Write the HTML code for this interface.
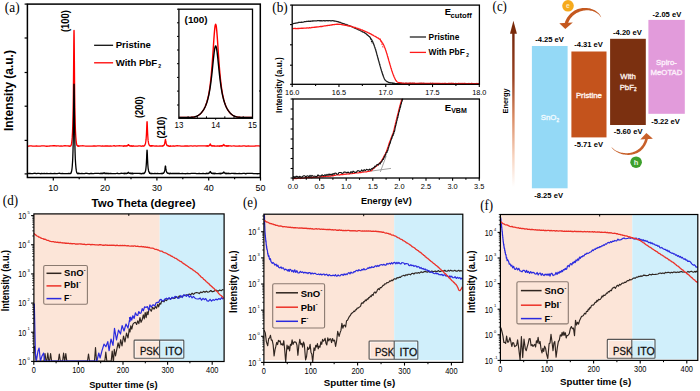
<!DOCTYPE html>
<html><head><meta charset="utf-8"><style>
html,body{margin:0;padding:0;background:#fff;width:700px;height:391px;overflow:hidden}
svg{display:block}
</style></head><body>
<svg width="700" height="391" viewBox="0 0 700 391">
<path d="M27.4,146.23 L28.7,146.22 L29.99,145.78 L31.28,145.79 L32.58,146.17 L33.88,146.12 L35.17,146.08 L36.46,145.9 L37.76,146.05 L39.05,146.05 L40.35,146.04 L41.64,145.83 L42.94,145.97 L44.23,145.95 L45.53,146.11 L46.82,146.25 L48.12,146.22 L49.41,146.02 L50.71,145.97 L52,145.88 L53.3,145.77 L54.59,145.76 L55.89,145.98 L57.18,145.91 L58.48,145.94 L59.77,146.2 L61.07,146.01 L62.36,146.03 L63.66,145.87 L64.95,145.76 L66.25,145.91 L67.54,145.82 L68.84,146.01 L70.13,146.24 L70.24,146.07 L70.34,145.8 L70.45,146.13 L70.55,146.04 L70.65,145.95 L70.76,145.95 L70.86,145.76 L70.96,145.61 L71.07,145.17 L71.17,145.21 L71.27,144.85 L71.38,144.03 L71.48,143.82 L71.59,143.19 L71.69,142.36 L71.79,141.58 L71.9,140.62 L72,139.77 L72.1,138.35 L72.21,137.14 L72.31,135.34 L72.41,133.82 L72.52,131.77 L72.62,129.18 L72.72,126.47 L72.83,123.4 L72.93,119.43 L73.04,114.68 L73.14,108.95 L73.24,102.23 L73.35,94.22 L73.45,84.15 L73.55,73.1 L73.66,60.13 L73.76,47.71 L73.86,36.59 L73.97,30.57 L74.07,30.45 L74.18,36.69 L74.28,47.51 L74.38,60.32 L74.49,72.94 L74.59,84.22 L74.69,93.98 L74.8,102.32 L74.9,109.31 L75,114.75 L75.11,119.11 L75.21,123.35 L75.31,126.55 L75.42,129.41 L75.52,131.42 L75.63,133.75 L75.73,135.19 L75.83,137.05 L75.94,138.24 L76.04,139.42 L76.14,140.81 L76.25,141.37 L76.35,142.39 L76.45,143.26 L76.56,143.56 L76.66,144.05 L76.77,144.81 L76.87,144.93 L76.97,145.35 L77.08,145.23 L77.18,145.56 L77.28,145.58 L77.39,145.92 L77.49,145.69 L77.59,146.16 L77.7,145.73 L77.8,146.09 L77.9,145.75 L78.01,145.87 L78.11,146.15 L78.22,145.83 L78.32,145.84 L78.42,146.1 L78.53,145.94 L78.63,145.77 L78.73,146.24 L78.84,145.83 L78.94,145.77 L79.04,145.92 L79.15,146.06 L79.25,146.12 L80.55,145.81 L81.84,145.92 L83.14,145.77 L84.43,145.97 L85.73,146.13 L87.02,146.12 L88.32,146.2 L89.61,146.13 L90.91,146.18 L92.2,146.1 L93.5,145.99 L94.79,145.86 L96.09,146.08 L97.38,145.91 L98.68,145.8 L99.97,145.97 L101.27,146.19 L102.56,145.81 L103.86,146.04 L105.15,145.95 L106.45,146.01 L107.74,145.82 L109.04,146.23 L110.33,145.88 L111.63,146.05 L112.92,145.96 L114.22,145.76 L115.51,146.03 L116.81,145.82 L118.1,145.78 L119.4,145.77 L120.69,145.83 L121.99,145.8 L123.28,146.07 L123.39,146 L123.49,146.24 L123.59,146.22 L123.7,146.25 L123.8,145.87 L123.9,145.97 L124.01,145.88 L124.11,146.05 L124.21,146.06 L124.32,146.15 L124.42,146.1 L124.52,145.88 L124.63,145.96 L124.73,146.01 L124.84,145.75 L124.94,145.77 L125.04,145.95 L125.15,145.8 L125.25,146.11 L125.35,145.86 L125.46,145.79 L125.56,145.83 L125.66,145.85 L125.77,145.84 L125.87,145.99 L125.98,145.95 L126.08,145.87 L126.18,146.03 L126.29,145.8 L126.39,146.14 L126.49,146.15 L126.6,146.02 L126.7,145.86 L126.8,145.88 L126.91,145.89 L127.01,145.6 L127.11,145.76 L127.22,145.78 L127.32,145.57 L127.43,145.47 L127.53,145.77 L127.63,145.48 L127.74,145.48 L127.84,145.58 L127.94,145.3 L128.05,145.01 L128.15,145.23 L128.25,144.81 L128.36,144.57 L128.46,144.9 L128.57,144.67 L128.67,144.89 L128.77,145.29 L128.88,145.33 L128.98,145.12 L129.08,145.44 L129.19,145.51 L129.29,145.61 L129.39,145.53 L129.5,145.77 L129.6,145.55 L129.7,145.69 L129.81,145.76 L129.91,146.07 L130.02,145.66 L130.12,146.02 L130.22,145.75 L130.33,145.96 L130.43,145.88 L130.53,145.93 L130.64,146.08 L130.74,145.91 L130.84,145.78 L130.95,145.79 L131.05,145.77 L131.16,146.16 L131.26,146.06 L131.36,146.22 L131.47,146.09 L131.57,145.76 L131.67,146.08 L131.78,146.14 L131.88,146.11 L131.98,146 L132.09,145.93 L132.19,145.98 L132.29,146.15 L132.4,145.88 L132.5,146.01 L132.61,145.99 L132.71,146.23 L132.81,146.15 L132.92,146.22 L133.02,146.17 L133.12,145.9 L133.23,145.87 L133.33,145.99 L133.43,145.88 L133.54,145.96 L133.64,146.09 L134.94,146.21 L136.23,146.04 L137.53,146.16 L138.82,145.8 L140.12,145.93 L141.41,146.25 L142.71,145.82 L142.81,145.96 L142.91,145.78 L143.02,145.79 L143.12,146.2 L143.22,146.24 L143.33,146.07 L143.43,145.8 L143.54,145.88 L143.64,145.84 L143.74,146.04 L143.85,146.03 L143.95,145.87 L144.05,145.88 L144.16,145.62 L144.26,145.77 L144.36,145.89 L144.47,145.7 L144.57,145.25 L144.68,145.32 L144.78,145.26 L144.88,144.85 L144.99,144.96 L145.09,144.5 L145.19,144.35 L145.3,143.89 L145.4,143.84 L145.5,143.33 L145.61,142.76 L145.71,142.01 L145.81,141.53 L145.92,140.58 L146.02,139.97 L146.13,139.05 L146.23,137.4 L146.33,136 L146.44,134.09 L146.54,131.82 L146.64,129.42 L146.75,126.82 L146.85,124.17 L146.95,122.18 L147.06,121.73 L147.16,122.11 L147.27,124.19 L147.37,126.69 L147.47,129.45 L147.58,132.04 L147.68,133.97 L147.78,136.05 L147.89,137.51 L147.99,138.94 L148.09,140.16 L148.2,140.88 L148.3,141.31 L148.4,142.17 L148.51,142.83 L148.61,143.38 L148.72,143.67 L148.82,144.1 L148.92,144.01 L149.03,144.74 L149.13,144.88 L149.23,145.02 L149.34,145.36 L149.44,145.51 L149.54,145.25 L149.65,145.73 L149.75,145.8 L149.86,145.6 L149.96,145.94 L150.06,145.91 L150.17,145.75 L150.27,146.09 L150.37,145.78 L150.48,146.03 L150.58,145.95 L150.68,145.87 L150.79,146.03 L150.89,145.98 L150.99,145.85 L151.1,146.23 L151.2,145.79 L151.31,145.75 L151.41,145.99 L151.51,146.17 L151.62,146.08 L151.72,146.13 L151.82,145.99 L151.93,146.09 L152.03,145.92 L152.13,145.88 L152.24,146 L152.34,145.76 L153.64,145.79 L154.93,146.13 L156.23,145.84 L157.52,146.13 L158.82,146.14 L160.11,145.95 L161.41,146.09 L161.51,146.14 L161.61,146.18 L161.72,145.82 L161.82,145.83 L161.92,145.94 L162.03,145.97 L162.13,145.89 L162.24,145.74 L162.34,146 L162.44,146.2 L162.55,145.88 L162.65,145.95 L162.75,145.85 L162.86,145.86 L162.96,146.04 L163.06,145.72 L163.17,145.85 L163.27,145.72 L163.37,145.69 L163.48,145.82 L163.58,145.32 L163.69,145.62 L163.79,145.26 L163.89,145.33 L164,145.28 L164.1,145.07 L164.2,144.77 L164.31,144.79 L164.41,144.18 L164.51,144.17 L164.62,143.71 L164.72,143.36 L164.83,143.02 L164.93,142.4 L165.03,141.64 L165.14,140.76 L165.24,140.05 L165.34,139.66 L165.45,139.37 L165.55,139.57 L165.65,140.41 L165.76,140.66 L165.86,141.73 L165.96,142.19 L166.07,142.78 L166.17,143.25 L166.28,143.55 L166.38,144.08 L166.48,144.22 L166.59,144.59 L166.69,144.72 L166.79,145.19 L166.9,145.34 L167,145.23 L167.1,145.43 L167.21,145.67 L167.31,145.45 L167.42,145.41 L167.52,145.54 L167.62,145.57 L167.73,145.87 L167.83,145.76 L167.93,145.78 L168.04,146.03 L168.14,145.78 L168.24,146.09 L168.35,146.02 L168.45,145.91 L168.55,146.14 L168.66,145.9 L168.76,146.18 L168.87,146.21 L168.97,146 L169.07,146.09 L169.18,146.22 L169.28,146.12 L169.38,146.13 L169.49,146.18 L169.59,146.22 L169.69,146.13 L169.8,146.24 L169.9,145.9 L170.01,146.06 L170.11,146.09 L170.21,145.93 L170.32,145.95 L170.42,145.84 L170.52,146.23 L170.63,145.93 L170.73,145.99 L172.03,146.2 L173.32,145.84 L174.62,146.23 L175.91,145.81 L177.21,145.76 L178.5,145.93 L179.8,145.93 L181.09,146.21 L182.39,146.19 L183.68,146.13 L184.98,145.97 L186.27,146.02 L187.57,145.87 L188.86,146.17 L190.16,145.94 L191.45,145.89 L192.75,146.07 L194.04,145.83 L195.34,145.91 L196.63,146.21 L197.93,145.8 L199.22,145.82 L200.52,145.85 L201.81,145.88 L203.11,145.96 L204.4,145.88 L205.7,145.92 L205.8,145.87 L205.9,145.87 L206.01,146.06 L206.11,145.92 L206.21,145.94 L206.32,146.13 L206.42,145.78 L206.52,145.82 L206.63,146.17 L206.73,145.96 L206.84,146.14 L206.94,145.81 L207.04,146.01 L207.15,146.17 L207.25,145.91 L207.35,146.12 L207.46,146.04 L207.56,145.92 L207.66,146.22 L207.77,145.91 L207.87,145.94 L207.97,146 L208.08,145.83 L208.18,146.08 L208.29,145.94 L208.39,145.92 L208.49,145.87 L208.6,146.07 L208.7,146.04 L208.8,145.93 L208.91,145.7 L209.01,145.63 L209.11,145.63 L209.22,145.33 L209.32,145.28 L209.43,145.63 L209.53,145.08 L209.63,145.34 L209.74,145.05 L209.84,144.98 L209.94,144.36 L210.05,144.29 L210.15,144.4 L210.25,143.95 L210.36,144.05 L210.46,144.31 L210.56,144.41 L210.67,144.6 L210.77,145.05 L210.88,144.92 L210.98,145.5 L211.08,145.45 L211.19,145.25 L211.29,145.75 L211.39,145.49 L211.5,145.66 L211.6,145.75 L211.7,145.58 L211.81,145.79 L211.91,145.6 L212.02,145.7 L212.12,146.08 L212.22,146.05 L212.33,145.92 L212.43,146.02 L212.53,146.13 L212.64,145.77 L212.74,145.96 L212.84,145.78 L212.95,145.78 L213.05,145.79 L213.15,145.84 L213.26,145.77 L213.36,145.85 L213.47,145.93 L213.57,146.06 L213.67,146.18 L213.78,146.2 L213.88,146.11 L213.98,146 L214.09,146.21 L214.19,145.83 L214.29,145.8 L214.4,146.16 L214.5,146.06 L214.61,145.86 L214.71,145.94 L214.81,145.9 L214.92,145.97 L215.02,145.96 L215.12,145.95 L215.23,146.15 L215.33,146.16 L215.43,146.03 L216.73,145.99 L218.02,145.89 L219.32,146.13 L219.42,146.24 L219.53,145.86 L219.63,146.1 L219.73,146.1 L219.84,146.08 L219.94,145.77 L220.04,146.03 L220.15,145.85 L220.25,145.85 L220.36,146.04 L220.46,146.07 L220.56,146.06 L220.67,146.11 L220.77,146.09 L220.87,145.98 L220.98,145.76 L221.08,146.11 L221.18,146.13 L221.29,146.13 L221.39,146.01 L221.49,145.72 L221.6,145.78 L221.7,145.73 L221.81,145.98 L221.91,145.91 L222.01,145.72 L222.12,146.08 L222.22,146.07 L222.32,146 L222.43,145.75 L222.53,145.62 L222.63,145.53 L222.74,145.79 L222.84,145.66 L222.95,145.36 L223.05,145.58 L223.15,145.29 L223.26,145.08 L223.36,144.93 L223.46,144.93 L223.57,144.66 L223.67,144.69 L223.77,144.42 L223.88,144.79 L223.98,144.7 L224.08,145.17 L224.19,144.98 L224.29,145.18 L224.4,145.4 L224.5,145.42 L224.6,145.57 L224.71,145.84 L224.81,145.53 L224.91,145.86 L225.02,145.86 L225.12,145.94 L225.22,145.8 L225.33,145.83 L225.43,145.8 L225.54,145.88 L225.64,145.79 L225.74,145.77 L225.85,145.92 L225.95,145.79 L226.05,145.94 L226.16,146 L226.26,145.88 L226.36,145.81 L226.47,146.04 L226.57,146.17 L226.67,145.85 L226.78,146.05 L226.88,146.07 L226.99,146.19 L227.09,146.09 L227.19,145.9 L227.3,145.85 L227.4,146.17 L227.5,145.9 L227.61,145.76 L227.71,146.19 L227.81,145.85 L227.92,145.91 L228.02,145.91 L228.13,145.88 L228.23,146.11 L228.33,145.92 L228.44,145.97 L228.54,145.96 L228.64,146.17 L228.75,145.76 L228.85,146.04 L228.95,145.82 L230.25,145.83 L231.54,146.05 L232.84,145.94 L234.13,145.78 L235.43,146.04 L236.72,146.21 L238.02,146.07 L239.31,146 L240.61,146.15 L241.9,146.21 L243.2,145.83 L244.49,145.9 L245.79,146.23 L247.08,146.21 L248.38,145.85 L249.67,146.1 L250.97,146.19 L252.26,146.05 L253.56,146.1 L254.85,146.01 L256.15,145.87 L257.44,145.86 L258.74,145.78 L260.03,146.08" fill="none" stroke="#ff0000" stroke-width="1.3" stroke-linejoin="round" />
<path d="M27.4,173.37 L28.7,173.52 L29.99,173.43 L31.28,173.55 L32.58,173.56 L33.88,173.28 L35.17,173.26 L36.46,173.67 L37.76,173.38 L39.05,173.37 L40.35,173.75 L41.64,173.49 L42.94,173.67 L44.23,173.49 L45.53,173.57 L46.82,173.33 L48.12,173.57 L49.41,173.68 L50.71,173.51 L52,173.62 L53.3,173.59 L54.59,173.28 L55.89,173.63 L57.18,173.55 L58.48,173.4 L59.77,173.27 L61.07,173.68 L62.36,173.49 L63.66,173.61 L64.95,173.69 L66.25,173.61 L67.54,173.71 L68.84,173.45 L70.13,173.64 L70.24,173.46 L70.34,173.69 L70.45,173.64 L70.55,173.22 L70.65,173.19 L70.76,173.16 L70.86,173.44 L70.96,173.05 L71.07,172.98 L71.17,172.61 L71.27,172.44 L71.38,172.05 L71.48,171.64 L71.59,171.29 L71.69,170.75 L71.79,170.28 L71.9,169.45 L72,168.75 L72.1,167.78 L72.21,166.79 L72.31,165.42 L72.41,163.79 L72.52,162.56 L72.62,160.79 L72.72,158.62 L72.83,155.95 L72.93,153.04 L73.04,149.22 L73.14,145.22 L73.24,139.87 L73.35,133.4 L73.45,125.74 L73.55,117.32 L73.66,107.64 L73.76,97.37 L73.86,89.39 L73.97,84.31 L74.07,84.18 L74.18,89.14 L74.28,97.71 L74.38,107.58 L74.49,116.92 L74.59,126.01 L74.69,133.28 L74.8,139.94 L74.9,144.97 L75,149.55 L75.11,153.17 L75.21,155.92 L75.31,158.67 L75.42,160.46 L75.52,162.17 L75.63,164.01 L75.73,165.1 L75.83,166.39 L75.94,167.56 L76.04,168.59 L76.14,169.19 L76.25,169.85 L76.35,170.89 L76.45,171.16 L76.56,171.95 L76.66,172.31 L76.77,172.38 L76.87,172.69 L76.97,172.93 L77.08,173.16 L77.18,173.26 L77.28,173.33 L77.39,173.43 L77.49,173.64 L77.59,173.45 L77.7,173.44 L77.8,173.59 L77.9,173.36 L78.01,173.4 L78.11,173.74 L78.22,173.51 L78.32,173.52 L78.42,173.26 L78.53,173.46 L78.63,173.54 L78.73,173.26 L78.84,173.56 L78.94,173.57 L79.04,173.28 L79.15,173.56 L79.25,173.48 L80.55,173.59 L81.84,173.43 L83.14,173.6 L84.43,173.62 L85.73,173.26 L87.02,173.28 L88.32,173.59 L89.61,173.73 L90.91,173.38 L92.2,173.48 L93.5,173.55 L94.79,173.41 L96.09,173.43 L97.38,173.41 L98.68,173.43 L99.97,173.55 L100.08,173.4 L100.18,173.44 L100.28,173.64 L100.39,173.26 L100.49,173.53 L100.59,173.62 L100.7,173.4 L100.8,173.36 L100.9,173.65 L101.01,173.37 L101.11,173.34 L101.21,173.46 L101.32,173.59 L101.42,173.29 L101.53,173.4 L101.63,173.4 L101.73,173.65 L101.84,173.45 L101.94,173.65 L102.04,173.3 L102.15,173.38 L102.25,173.53 L102.35,173.64 L102.46,173.41 L102.56,173.29 L102.67,173.22 L102.77,173.41 L102.87,173.23 L102.98,173.52 L103.08,173.51 L103.18,173.15 L103.29,173.16 L103.39,173.39 L103.49,173.25 L103.6,173.28 L103.7,172.98 L103.8,172.81 L103.91,172.83 L104.01,173.05 L104.12,172.79 L104.22,172.86 L104.32,172.95 L104.43,173.02 L104.53,173.08 L104.63,173.39 L104.74,173.06 L104.84,173.03 L104.94,173.53 L105.05,173.53 L105.15,173.61 L105.26,173.35 L105.36,173.62 L105.46,173.63 L105.57,173.29 L105.67,173.56 L105.77,173.61 L105.88,173.54 L105.98,173.47 L106.08,173.36 L106.19,173.39 L106.29,173.34 L106.39,173.27 L106.5,173.53 L106.6,173.38 L106.71,173.65 L106.81,173.27 L106.91,173.7 L107.02,173.59 L107.12,173.71 L107.22,173.7 L107.33,173.7 L107.43,173.54 L107.53,173.26 L107.64,173.62 L107.74,173.34 L107.85,173.4 L107.95,173.58 L108.05,173.51 L108.16,173.46 L108.26,173.72 L108.36,173.56 L108.47,173.42 L108.57,173.38 L108.67,173.68 L108.78,173.49 L108.88,173.64 L108.98,173.43 L109.09,173.35 L109.19,173.52 L109.3,173.66 L110.59,173.34 L111.89,173.65 L113.18,173.71 L114.48,173.65 L115.77,173.66 L117.07,173.25 L118.36,173.56 L119.66,173.68 L120.95,173.27 L122.25,173.39 L123.54,173.38 L123.64,173.51 L123.75,173.46 L123.85,173.49 L123.96,173.64 L124.06,173.25 L124.16,173.28 L124.27,173.31 L124.37,173.31 L124.47,173.28 L124.58,173.74 L124.68,173.68 L124.78,173.29 L124.89,173.5 L124.99,173.41 L125.09,173.41 L125.2,173.42 L125.3,173.57 L125.41,173.54 L125.51,173.42 L125.61,173.34 L125.72,173.4 L125.82,173.29 L125.92,173.51 L126.03,173.58 L126.13,173.41 L126.23,173.25 L126.34,173.29 L126.44,173.38 L126.55,173.48 L126.65,173.56 L126.75,173.34 L126.86,173.54 L126.96,173.43 L127.06,173.31 L127.17,173.25 L127.27,173.29 L127.37,173.35 L127.48,173.17 L127.58,173.25 L127.68,173.07 L127.79,172.89 L127.89,172.94 L128,172.92 L128.1,172.49 L128.2,172.57 L128.31,172.49 L128.41,172.69 L128.51,172.75 L128.62,172.54 L128.72,172.91 L128.82,172.96 L128.93,172.8 L129.03,173 L129.14,172.9 L129.24,173.31 L129.34,173.29 L129.45,173.45 L129.55,173.43 L129.65,173.4 L129.76,173.46 L129.86,173.4 L129.96,173.19 L130.07,173.45 L130.17,173.17 L130.27,173.25 L130.38,173.58 L130.48,173.22 L130.59,173.25 L130.69,173.27 L130.79,173.66 L130.9,173.32 L131,173.24 L131.1,173.66 L131.21,173.3 L131.31,173.66 L131.41,173.58 L131.52,173.66 L131.62,173.72 L131.73,173.54 L131.83,173.65 L131.93,173.27 L132.04,173.63 L132.14,173.51 L132.24,173.61 L132.35,173.3 L132.45,173.62 L132.55,173.72 L132.66,173.28 L132.76,173.41 L132.86,173.53 L132.97,173.66 L133.07,173.37 L133.18,173.34 L133.28,173.37 L133.38,173.56 L133.49,173.63 L133.59,173.45 L133.69,173.43 L134.99,173.45 L136.28,173.43 L137.58,173.46 L138.87,173.29 L140.17,173.5 L141.46,173.74 L142.76,173.46 L142.86,173.62 L142.97,173.33 L143.07,173.59 L143.17,173.63 L143.28,173.58 L143.38,173.5 L143.48,173.48 L143.59,173.55 L143.69,173.67 L143.79,173.27 L143.9,173.22 L144,173.52 L144.11,173.56 L144.21,173.3 L144.31,173.19 L144.42,173.25 L144.52,172.88 L144.62,172.8 L144.73,172.62 L144.83,172.65 L144.93,172.32 L145.04,172.07 L145.14,172.05 L145.24,171.91 L145.35,171.26 L145.45,171.11 L145.56,170.55 L145.66,170.29 L145.76,169.6 L145.87,168.78 L145.97,167.98 L146.07,166.94 L146.18,166.04 L146.28,164.63 L146.38,162.87 L146.49,160.99 L146.59,158.66 L146.7,156.34 L146.8,153.45 L146.9,151.7 L147.01,150.16 L147.11,150.22 L147.21,151.43 L147.32,153.8 L147.42,156.36 L147.52,158.78 L147.63,161.05 L147.73,163.15 L147.83,164.87 L147.94,166.01 L148.04,167.3 L148.15,168.35 L148.25,168.88 L148.35,169.42 L148.46,169.98 L148.56,170.7 L148.66,171.09 L148.77,171.59 L148.87,171.86 L148.97,171.83 L149.08,172.05 L149.18,172.3 L149.29,172.45 L149.39,172.87 L149.49,173.09 L149.6,173.23 L149.7,173.01 L149.8,173.4 L149.91,173.2 L150.01,173.31 L150.11,173.51 L150.22,173.22 L150.32,173.25 L150.42,173.63 L150.53,173.37 L150.63,173.42 L150.74,173.53 L150.84,173.58 L150.94,173.25 L151.05,173.42 L151.15,173.47 L151.25,173.49 L151.36,173.35 L151.46,173.54 L151.56,173.73 L151.67,173.45 L151.77,173.52 L151.88,173.31 L151.98,173.39 L152.08,173.58 L152.19,173.31 L152.29,173.69 L153.58,173.7 L154.88,173.3 L156.17,173.72 L157.47,173.44 L158.76,173.64 L160.06,173.63 L161.35,173.4 L161.46,173.59 L161.56,173.58 L161.67,173.65 L161.77,173.38 L161.87,173.62 L161.98,173.72 L162.08,173.58 L162.18,173.5 L162.29,173.28 L162.39,173.46 L162.49,173.38 L162.6,173.54 L162.7,173.5 L162.81,173.42 L162.91,173.19 L163.01,173.39 L163.12,173.33 L163.22,173.05 L163.32,173.35 L163.43,173.16 L163.53,172.82 L163.63,173.13 L163.74,172.64 L163.84,172.62 L163.94,172.68 L164.05,172.47 L164.15,172.27 L164.26,172.1 L164.36,171.76 L164.46,171.39 L164.57,170.96 L164.67,170.47 L164.77,170.27 L164.88,169.66 L164.98,168.82 L165.08,168.1 L165.19,167.09 L165.29,166.35 L165.4,166 L165.5,166.24 L165.6,166.23 L165.71,167.16 L165.81,167.85 L165.91,168.93 L166.02,169.46 L166.12,170.08 L166.22,170.64 L166.33,171.14 L166.43,171.62 L166.53,171.71 L166.64,172.2 L166.74,172.05 L166.85,172.3 L166.95,172.37 L167.05,172.51 L167.16,172.96 L167.26,173.03 L167.36,172.85 L167.47,172.93 L167.57,173.11 L167.67,173.34 L167.78,173.42 L167.88,173.44 L167.99,173.4 L168.09,173.21 L168.19,173.36 L168.3,173.28 L168.4,173.47 L168.5,173.5 L168.61,173.33 L168.71,173.36 L168.81,173.63 L168.92,173.26 L169.02,173.65 L169.12,173.69 L169.23,173.72 L169.33,173.44 L169.44,173.53 L169.54,173.54 L169.64,173.57 L169.75,173.74 L169.85,173.59 L169.95,173.4 L170.06,173.68 L170.16,173.49 L170.26,173.55 L170.37,173.61 L170.47,173.25 L170.58,173.64 L170.68,173.58 L171.97,173.5 L173.27,173.51 L174.56,173.48 L175.86,173.35 L177.15,173.51 L178.45,173.27 L179.74,173.5 L181.04,173.57 L182.33,173.47 L183.63,173.53 L184.92,173.73 L186.22,173.7 L187.51,173.32 L188.81,173.65 L190.1,173.56 L191.4,173.28 L192.69,173.43 L193.99,173.37 L195.28,173.29 L196.58,173.52 L197.87,173.71 L199.17,173.41 L200.46,173.69 L201.76,173.6 L203.05,173.32 L204.35,173.68 L205.64,173.55 L205.75,173.71 L205.85,173.61 L205.95,173.62 L206.06,173.42 L206.16,173.65 L206.27,173.72 L206.37,173.68 L206.47,173.47 L206.58,173.63 L206.68,173.49 L206.78,173.3 L206.89,173.27 L206.99,173.29 L207.09,173.34 L207.2,173.32 L207.3,173.49 L207.4,173.58 L207.51,173.5 L207.61,173.43 L207.72,173.54 L207.82,173.36 L207.92,173.43 L208.03,173.56 L208.13,173.37 L208.23,173.24 L208.34,173.58 L208.44,173.47 L208.54,173.27 L208.65,173.24 L208.75,173.29 L208.86,173.29 L208.96,173.06 L209.06,172.9 L209.17,172.94 L209.27,173.16 L209.37,172.75 L209.48,172.81 L209.58,172.55 L209.68,172.4 L209.79,172.21 L209.89,172.13 L210,171.81 L210.1,171.57 L210.2,171.52 L210.31,171.55 L210.41,171.81 L210.51,171.76 L210.62,171.94 L210.72,172.34 L210.82,172.5 L210.93,172.8 L211.03,172.6 L211.13,172.88 L211.24,172.96 L211.34,172.85 L211.45,173.38 L211.55,173.06 L211.65,173.04 L211.76,173.26 L211.86,173.14 L211.96,173.4 L212.07,173.28 L212.17,173.19 L212.27,173.18 L212.38,173.53 L212.48,173.32 L212.59,173.59 L212.69,173.44 L212.79,173.68 L212.9,173.37 L213,173.35 L213.1,173.37 L213.21,173.65 L213.31,173.56 L213.41,173.42 L213.52,173.29 L213.62,173.59 L213.72,173.73 L213.83,173.55 L213.93,173.25 L214.04,173.26 L214.14,173.3 L214.24,173.34 L214.35,173.27 L214.45,173.28 L214.55,173.58 L214.66,173.7 L214.76,173.35 L214.86,173.74 L214.97,173.49 L215.07,173.65 L215.18,173.71 L215.28,173.72 L215.38,173.27 L215.49,173.4 L216.78,173.55 L218.08,173.72 L219.37,173.29 L219.47,173.4 L219.58,173.67 L219.68,173.31 L219.79,173.44 L219.89,173.42 L219.99,173.59 L220.1,173.71 L220.2,173.34 L220.3,173.62 L220.41,173.61 L220.51,173.66 L220.61,173.52 L220.72,173.7 L220.82,173.42 L220.92,173.44 L221.03,173.35 L221.13,173.62 L221.24,173.46 L221.34,173.35 L221.44,173.29 L221.55,173.55 L221.65,173.48 L221.75,173.52 L221.86,173.34 L221.96,173.38 L222.06,173.19 L222.17,173.44 L222.27,173.07 L222.38,173.27 L222.48,173.38 L222.58,173.29 L222.69,172.95 L222.79,172.96 L222.89,173.19 L223,173 L223.1,173.01 L223.2,172.88 L223.31,172.52 L223.41,172.59 L223.51,172.36 L223.62,172.06 L223.72,172.04 L223.83,171.93 L223.93,172.2 L224.03,172.62 L224.14,172.35 L224.24,172.73 L224.34,172.63 L224.45,172.72 L224.55,173.09 L224.65,172.96 L224.76,172.93 L224.86,173.03 L224.97,173.32 L225.07,173.32 L225.17,173.07 L225.28,173.2 L225.38,173.6 L225.48,173.24 L225.59,173.43 L225.69,173.38 L225.79,173.57 L225.9,173.49 L226,173.6 L226.1,173.48 L226.21,173.31 L226.31,173.31 L226.42,173.27 L226.52,173.65 L226.62,173.3 L226.73,173.25 L226.83,173.73 L226.93,173.35 L227.04,173.69 L227.14,173.29 L227.24,173.48 L227.35,173.36 L227.45,173.66 L227.56,173.56 L227.66,173.57 L227.76,173.63 L227.87,173.69 L227.97,173.42 L228.07,173.55 L228.18,173.47 L228.28,173.31 L228.38,173.67 L228.49,173.55 L228.59,173.66 L228.69,173.35 L228.8,173.52 L228.9,173.48 L230.2,173.61 L231.49,173.29 L232.79,173.42 L234.08,173.49 L235.38,173.29 L236.67,173.53 L237.97,173.62 L239.26,173.46 L240.56,173.57 L241.85,173.55 L243.15,173.36 L244.44,173.43 L245.74,173.75 L247.03,173.42 L248.33,173.47 L249.62,173.29 L250.92,173.36 L252.21,173.33 L253.51,173.72 L254.8,173.61 L256.1,173.69 L257.39,173.74 L258.69,173.56 L259.98,173.72" fill="none" stroke="#000" stroke-width="1.3" stroke-linejoin="round" />
<rect x="27.4" y="4.1" width="232.9" height="173.4" fill="none" stroke="#000" stroke-width="1.5" />
<line x1="24.6" y1="4.1" x2="27.4" y2="4.1" stroke="#000" stroke-width="1.2" />
<line x1="24.6" y1="38" x2="27.4" y2="38" stroke="#000" stroke-width="1.2" />
<line x1="24.6" y1="72.5" x2="27.4" y2="72.5" stroke="#000" stroke-width="1.2" />
<line x1="24.6" y1="106.2" x2="27.4" y2="106.2" stroke="#000" stroke-width="1.2" />
<line x1="24.6" y1="140.4" x2="27.4" y2="140.4" stroke="#000" stroke-width="1.2" />
<line x1="24.6" y1="173.9" x2="27.4" y2="173.9" stroke="#000" stroke-width="1.2" />
<line x1="259" y1="91" x2="260.3" y2="91" stroke="#000" stroke-width="1.2" />
<line x1="53.3" y1="177.5" x2="53.3" y2="180.6" stroke="#000" stroke-width="1.2" />
<text x="53.3" y="191" font-family="Liberation Sans" font-size="9.8" font-weight="normal" text-anchor="middle" fill="#000"  textLength="10.0" lengthAdjust="spacingAndGlyphs">10</text>
<line x1="105.1" y1="177.5" x2="105.1" y2="180.6" stroke="#000" stroke-width="1.2" />
<text x="105.1" y="191" font-family="Liberation Sans" font-size="9.8" font-weight="normal" text-anchor="middle" fill="#000"  textLength="10.0" lengthAdjust="spacingAndGlyphs">20</text>
<line x1="156.9" y1="177.5" x2="156.9" y2="180.6" stroke="#000" stroke-width="1.2" />
<text x="156.9" y="191" font-family="Liberation Sans" font-size="9.8" font-weight="normal" text-anchor="middle" fill="#000"  textLength="10.0" lengthAdjust="spacingAndGlyphs">30</text>
<line x1="208.7" y1="177.5" x2="208.7" y2="180.6" stroke="#000" stroke-width="1.2" />
<text x="208.7" y="191" font-family="Liberation Sans" font-size="9.8" font-weight="normal" text-anchor="middle" fill="#000"  textLength="10.0" lengthAdjust="spacingAndGlyphs">40</text>
<line x1="260.5" y1="177.5" x2="260.5" y2="180.6" stroke="#000" stroke-width="1.2" />
<text x="260.5" y="191" font-family="Liberation Sans" font-size="9.8" font-weight="normal" text-anchor="middle" fill="#000"  textLength="10.0" lengthAdjust="spacingAndGlyphs">50</text>
<line x1="79.2" y1="177.5" x2="79.2" y2="179.2" stroke="#000" stroke-width="1.2" />
<line x1="131" y1="177.5" x2="131" y2="179.2" stroke="#000" stroke-width="1.2" />
<line x1="182.8" y1="177.5" x2="182.8" y2="179.2" stroke="#000" stroke-width="1.2" />
<line x1="234.6" y1="177.5" x2="234.6" y2="179.2" stroke="#000" stroke-width="1.2" />
<text textLength="81" lengthAdjust="spacingAndGlyphs" transform="translate(9.6,90.6) rotate(-90)" x="0" y="3.12" font-family="Liberation Sans" font-size="12" font-weight="bold" text-anchor="middle" fill="#000">Intensity (a.u.)</text>
<text x="143.6" y="207" font-family="Liberation Sans" font-size="10.5" font-weight="bold" text-anchor="middle" fill="#000"  textLength="104" lengthAdjust="spacingAndGlyphs">Two Theta (degree)</text>
<text x="4.8" y="11.6" font-family="Liberation Serif" font-size="13.8" font-weight="normal" text-anchor="start" fill="#000"  textLength="14.8" lengthAdjust="spacingAndGlyphs">(a)</text>
<text textLength="22" lengthAdjust="spacingAndGlyphs" transform="translate(66,21.1) rotate(-90)" x="0" y="2.6" font-family="Liberation Sans" font-size="10" font-weight="bold" text-anchor="middle" fill="#000">(100)</text>
<text textLength="21.8" lengthAdjust="spacingAndGlyphs" transform="translate(140.3,107.2) rotate(-90)" x="0" y="2.6" font-family="Liberation Sans" font-size="10" font-weight="bold" text-anchor="middle" fill="#000">(200)</text>
<text textLength="22" lengthAdjust="spacingAndGlyphs" transform="translate(162.5,127.6) rotate(-90)" x="0" y="2.6" font-family="Liberation Sans" font-size="10" font-weight="bold" text-anchor="middle" fill="#000">(210)</text>
<line x1="94.1" y1="45.3" x2="113.1" y2="45.3" stroke="#111" stroke-width="1.3" />
<text x="115.7" y="48.1" font-family="Liberation Sans" font-size="9.6" font-weight="bold" text-anchor="start" fill="#000" >Pristine</text>
<line x1="94.1" y1="62.8" x2="113.1" y2="62.8" stroke="#ff0000" stroke-width="1.3" />
<text x="115.7" y="65.6" font-family="Liberation Sans" font-size="9.6" font-weight="bold" text-anchor="start" fill="#000" >With PbF</text>
<text x="158.3" y="67.9" font-family="Liberation Sans" font-size="5.2" font-weight="bold" text-anchor="start" fill="#000" >2</text>
<rect x="178.9" y="9.2" width="73.6" height="109.1" fill="#fff"/>
<path d="M178.9,117.4 L179.27,117.4 L179.63,117.4 L180,117.4 L180.37,117.4 L180.74,117.4 L181.1,117.4 L181.47,117.4 L181.84,117.4 L182.21,117.4 L182.57,117.4 L182.94,117.4 L183.31,117.4 L183.68,117.4 L184.04,117.4 L184.41,117.4 L184.78,117.4 L185.15,117.4 L185.51,117.4 L185.88,117.4 L186.25,117.4 L186.62,117.4 L186.98,117.4 L187.35,117.4 L187.72,117.39 L188.09,117.39 L188.45,117.39 L188.82,117.39 L189.19,117.38 L189.56,117.37 L189.92,117.37 L190.29,117.36 L190.66,117.34 L191.03,117.33 L191.39,117.31 L191.76,117.28 L192.13,117.26 L192.5,117.22 L192.86,117.18 L193.23,117.14 L193.6,117.08 L193.97,117.02 L194.33,116.95 L194.7,116.87 L195.07,116.77 L195.44,116.67 L195.8,116.55 L196.17,116.42 L196.54,116.28 L196.91,116.12 L197.27,115.95 L197.64,115.76 L198.01,115.55 L198.38,115.33 L198.74,115.08 L199.11,114.82 L199.48,114.54 L199.85,114.24 L200.21,113.92 L200.58,113.57 L200.95,113.2 L201.32,112.81 L201.68,112.38 L202.05,111.94 L202.42,111.46 L202.79,110.94 L203.15,110.4 L203.52,109.82 L203.89,109.19 L204.26,108.52 L204.62,107.8 L204.99,107.03 L205.36,106.2 L205.73,105.3 L206.09,104.33 L206.46,103.28 L206.83,102.13 L207.2,100.87 L207.56,99.5 L207.93,98 L208.3,96.35 L208.67,94.53 L209.03,92.52 L209.4,90.29 L209.77,87.83 L210.14,85.09 L210.5,82.06 L210.87,78.71 L211.24,75 L211.61,70.92 L211.97,66.46 L212.34,61.64 L212.71,56.49 L213.08,51.09 L213.44,45.59 L213.81,40.17 L214.18,35.09 L214.55,30.65 L214.91,27.18 L215.28,24.96 L215.65,24.2 L216.02,24.96 L216.38,27.18 L216.75,30.65 L217.12,35.09 L217.49,40.17 L217.85,45.59 L218.22,51.09 L218.59,56.49 L218.96,61.64 L219.32,66.46 L219.69,70.92 L220.06,75 L220.43,78.71 L220.79,82.06 L221.16,85.09 L221.53,87.83 L221.9,90.29 L222.26,92.52 L222.63,94.53 L223,96.35 L223.37,98 L223.73,99.5 L224.1,100.87 L224.47,102.13 L224.84,103.28 L225.2,104.33 L225.57,105.3 L225.94,106.2 L226.31,107.03 L226.67,107.8 L227.04,108.52 L227.41,109.19 L227.78,109.82 L228.14,110.4 L228.51,110.94 L228.88,111.46 L229.25,111.94 L229.61,112.38 L229.98,112.81 L230.35,113.2 L230.72,113.57 L231.08,113.92 L231.45,114.24 L231.82,114.54 L232.19,114.82 L232.55,115.08 L232.92,115.33 L233.29,115.55 L233.66,115.76 L234.02,115.95 L234.39,116.12 L234.76,116.28 L235.13,116.42 L235.49,116.55 L235.86,116.67 L236.23,116.77 L236.6,116.87 L236.96,116.95 L237.33,117.02 L237.7,117.08 L238.07,117.14 L238.43,117.18 L238.8,117.22 L239.17,117.26 L239.54,117.28 L239.9,117.31 L240.27,117.33 L240.64,117.34 L241.01,117.36 L241.37,117.37 L241.74,117.37 L242.11,117.38 L242.48,117.39 L242.84,117.39 L243.21,117.39 L243.58,117.39 L243.95,117.4 L244.31,117.4 L244.68,117.4 L245.05,117.4 L245.42,117.4 L245.78,117.4 L246.15,117.4 L246.52,117.4 L246.89,117.4 L247.25,117.4 L247.62,117.4 L247.99,117.4 L248.36,117.4 L248.72,117.4 L249.09,117.4 L249.46,117.4 L249.83,117.4 L250.19,117.4 L250.56,117.4 L250.93,117.4 L251.3,117.4 L251.66,117.4 L252.03,117.4 L252.4,117.4" fill="none" stroke="#ff0000" stroke-width="1.4" stroke-linejoin="round" />
<path d="M178.9,117.4 L179.27,117.4 L179.63,117.4 L180,117.4 L180.37,117.4 L180.74,117.4 L181.1,117.4 L181.47,117.4 L181.84,117.4 L182.21,117.4 L182.57,117.4 L182.94,117.4 L183.31,117.4 L183.68,117.4 L184.04,117.4 L184.41,117.4 L184.78,117.4 L185.15,117.4 L185.51,117.4 L185.88,117.4 L186.25,117.4 L186.62,117.4 L186.98,117.4 L187.35,117.4 L187.72,117.39 L188.09,117.39 L188.45,117.39 L188.82,117.38 L189.19,117.38 L189.56,117.37 L189.92,117.36 L190.29,117.35 L190.66,117.34 L191.03,117.32 L191.39,117.3 L191.76,117.28 L192.13,117.25 L192.5,117.22 L192.86,117.18 L193.23,117.13 L193.6,117.07 L193.97,117.01 L194.33,116.94 L194.7,116.85 L195.07,116.76 L195.44,116.65 L195.8,116.53 L196.17,116.4 L196.54,116.25 L196.91,116.09 L197.27,115.92 L197.64,115.72 L198.01,115.51 L198.38,115.29 L198.74,115.04 L199.11,114.78 L199.48,114.49 L199.85,114.19 L200.21,113.86 L200.58,113.51 L200.95,113.14 L201.32,112.75 L201.68,112.33 L202.05,111.88 L202.42,111.41 L202.79,110.9 L203.15,110.36 L203.52,109.79 L203.89,109.18 L204.26,108.53 L204.62,107.83 L204.99,107.09 L205.36,106.29 L205.73,105.44 L206.09,104.52 L206.46,103.52 L206.83,102.45 L207.2,101.29 L207.56,100.04 L207.93,98.68 L208.3,97.19 L208.67,95.58 L209.03,93.82 L209.4,91.9 L209.77,89.81 L210.14,87.54 L210.5,85.06 L210.87,82.38 L211.24,79.48 L211.61,76.38 L211.97,73.08 L212.34,69.61 L212.71,66.02 L213.08,62.38 L213.44,58.79 L213.81,55.37 L214.18,52.26 L214.55,49.62 L214.91,47.6 L215.28,46.33 L215.65,45.9 L216.02,46.33 L216.38,47.6 L216.75,49.62 L217.12,52.26 L217.49,55.37 L217.85,58.79 L218.22,62.38 L218.59,66.02 L218.96,69.61 L219.32,73.08 L219.69,76.38 L220.06,79.48 L220.43,82.38 L220.79,85.06 L221.16,87.54 L221.53,89.81 L221.9,91.9 L222.26,93.82 L222.63,95.58 L223,97.19 L223.37,98.68 L223.73,100.04 L224.1,101.29 L224.47,102.45 L224.84,103.52 L225.2,104.52 L225.57,105.44 L225.94,106.29 L226.31,107.09 L226.67,107.83 L227.04,108.53 L227.41,109.18 L227.78,109.79 L228.14,110.36 L228.51,110.9 L228.88,111.41 L229.25,111.88 L229.61,112.33 L229.98,112.75 L230.35,113.14 L230.72,113.51 L231.08,113.86 L231.45,114.19 L231.82,114.49 L232.19,114.78 L232.55,115.04 L232.92,115.29 L233.29,115.51 L233.66,115.72 L234.02,115.92 L234.39,116.09 L234.76,116.25 L235.13,116.4 L235.49,116.53 L235.86,116.65 L236.23,116.76 L236.6,116.85 L236.96,116.94 L237.33,117.01 L237.7,117.07 L238.07,117.13 L238.43,117.18 L238.8,117.22 L239.17,117.25 L239.54,117.28 L239.9,117.3 L240.27,117.32 L240.64,117.34 L241.01,117.35 L241.37,117.36 L241.74,117.37 L242.11,117.38 L242.48,117.38 L242.84,117.39 L243.21,117.39 L243.58,117.39 L243.95,117.4 L244.31,117.4 L244.68,117.4 L245.05,117.4 L245.42,117.4 L245.78,117.4 L246.15,117.4 L246.52,117.4 L246.89,117.4 L247.25,117.4 L247.62,117.4 L247.99,117.4 L248.36,117.4 L248.72,117.4 L249.09,117.4 L249.46,117.4 L249.83,117.4 L250.19,117.4 L250.56,117.4 L250.93,117.4 L251.3,117.4 L251.66,117.4 L252.03,117.4 L252.4,117.4" fill="none" stroke="#000" stroke-width="1.4" stroke-linejoin="round" />
<rect x="178.9" y="9.2" width="73.6" height="109.1" fill="none" stroke="#000" stroke-width="1.3" />
<line x1="177" y1="9.2" x2="178.9" y2="9.2" stroke="#000" stroke-width="1" />
<line x1="177" y1="22.8" x2="178.9" y2="22.8" stroke="#000" stroke-width="1" />
<line x1="177" y1="36.4" x2="178.9" y2="36.4" stroke="#000" stroke-width="1" />
<line x1="177" y1="50" x2="178.9" y2="50" stroke="#000" stroke-width="1" />
<line x1="177" y1="63.7" x2="178.9" y2="63.7" stroke="#000" stroke-width="1" />
<line x1="177" y1="77.4" x2="178.9" y2="77.4" stroke="#000" stroke-width="1" />
<line x1="177" y1="91.1" x2="178.9" y2="91.1" stroke="#000" stroke-width="1" />
<line x1="177" y1="105" x2="178.9" y2="105" stroke="#000" stroke-width="1" />
<line x1="188.09" y1="118.3" x2="188.09" y2="116.3" stroke="#000" stroke-width="1" />
<line x1="197.28" y1="118.3" x2="197.28" y2="116.3" stroke="#000" stroke-width="1" />
<line x1="206.46" y1="118.3" x2="206.46" y2="116.3" stroke="#000" stroke-width="1" />
<line x1="215.65" y1="118.3" x2="215.65" y2="119.8" stroke="#000" stroke-width="1" />
<line x1="224.84" y1="118.3" x2="224.84" y2="116.3" stroke="#000" stroke-width="1" />
<line x1="234.03" y1="118.3" x2="234.03" y2="116.3" stroke="#000" stroke-width="1" />
<line x1="243.21" y1="118.3" x2="243.21" y2="116.3" stroke="#000" stroke-width="1" />
<text x="178.9" y="128.2" font-family="Liberation Sans" font-size="9.0" font-weight="normal" text-anchor="middle" fill="#000"  textLength="8.8" lengthAdjust="spacingAndGlyphs">13</text>
<text x="215.65" y="128.2" font-family="Liberation Sans" font-size="9.0" font-weight="normal" text-anchor="middle" fill="#000"  textLength="8.8" lengthAdjust="spacingAndGlyphs">14</text>
<text x="252.4" y="128.2" font-family="Liberation Sans" font-size="9.0" font-weight="normal" text-anchor="middle" fill="#000"  textLength="8.8" lengthAdjust="spacingAndGlyphs">15</text>
<text x="184.6" y="23.2" font-family="Liberation Sans" font-size="9.9" font-weight="bold" text-anchor="start" fill="#000" >(100)</text>
<path d="M292.7,23.69 L293.03,23.66 L293.42,23.69 L293.86,23.46 L294.36,23.37 L294.91,23.29 L295.5,23.05 L296.14,23.03 L296.83,22.94 L297.56,22.86 L298.33,22.52 L299.15,22.46 L300,22.28 L300.49,22.43 L301.01,22.32 L301.55,22.06 L302.12,22.27 L302.71,22.19 L303.31,22.02 L303.94,21.93 L304.57,21.71 L305.22,21.59 L305.88,21.67 L306.54,21.45 L307.21,21.41 L307.88,21.35 L308.55,21.22 L309.22,21.28 L309.88,21.2 L310.53,21.26 L311.18,21.1 L311.81,21.08 L312.42,20.99 L313.02,20.99 L313.6,20.89 L314.25,20.79 L314.9,20.97 L315.54,20.94 L316.17,20.86 L316.79,20.8 L317.41,20.66 L318.02,20.62 L318.63,20.63 L319.23,20.56 L319.82,20.76 L320.41,20.65 L321,20.78 L321.58,20.64 L322.16,20.81 L322.73,20.78 L323.3,20.53 L323.87,20.6 L324.44,20.82 L325,20.69 L325.66,20.85 L326.32,20.67 L326.96,20.57 L327.6,20.73 L328.23,20.77 L328.85,20.62 L329.47,20.56 L330.09,20.64 L330.7,20.85 L331.31,20.8 L331.92,20.64 L332.53,20.72 L333.14,20.73 L333.76,20.78 L334.38,21.09 L335,21 L335.59,21.23 L336.18,21.32 L336.76,21.38 L337.35,21.7 L337.94,21.68 L338.53,22.01 L339.12,22.03 L339.71,22.31 L340.29,22.44 L340.88,22.66 L341.47,23.08 L342.06,23.24 L342.65,23.3 L343.24,23.69 L343.82,23.7 L344.41,23.96 L345,24.31 L345.59,24.45 L346.18,24.5 L346.78,24.98 L347.37,24.97 L347.97,25.2 L348.57,25.58 L349.17,25.67 L349.76,25.89 L350.36,26.06 L350.95,26.3 L351.54,26.68 L352.13,26.81 L352.72,27.16 L353.3,27.33 L353.87,27.6 L354.44,27.99 L355,28.1 L355.6,28.39 L356.21,28.75 L356.82,28.82 L357.44,29.09 L358.05,29.61 L358.67,29.87 L359.28,29.99 L359.88,30.26 L360.46,30.72 L361.04,31.06 L361.59,31.12 L362.12,31.62 L362.64,31.87 L363.12,32.04 L363.58,32.24 L364,32.38 L364.75,32.8 L365.37,33.48 L365.91,33.64 L366.37,34.13 L366.79,34.34 L367.18,34.86 L367.58,35.15 L368,35.44 L368.49,35.82 L368.94,36.35 L369.37,36.51 L369.78,36.95 L370.2,37.52 L370.64,38.18 L371.1,38.83 L371.34,39.15 L371.59,39.79 L371.84,40.05 L372.09,40.49 L372.35,41.09 L372.61,41.69 L372.87,42.14 L373.13,42.77 L373.39,43.45 L373.66,44.15 L373.92,44.68 L374.18,45.43 L374.44,46.29 L374.7,47.04 L374.87,47.45 L375.04,47.98 L375.21,48.48 L375.39,48.9 L375.56,49.43 L375.73,50 L375.9,50.86 L376.07,51.4 L376.24,52.08 L376.41,52.42 L376.59,53.22 L376.76,53.8 L376.93,54.5 L377.1,55.01 L377.27,55.84 L377.44,56.19 L377.61,56.96 L377.79,57.64 L377.96,58.31 L378.13,58.87 L378.3,59.46 L378.47,60.09 L378.65,60.74 L378.82,61.2 L379,61.93 L379.18,62.63 L379.35,63.26 L379.53,63.77 L379.71,64.53 L379.89,65.19 L380.07,65.74 L380.24,66.39 L380.42,66.94 L380.59,67.62 L380.77,68.24 L380.94,68.67 L381.11,69.42 L381.27,70.09 L381.43,70.6 L381.59,71.08 L381.75,71.49 L381.9,72.07 L382.16,72.82 L382.4,73.53 L382.64,74.37 L382.87,74.81 L383.09,75.65 L383.31,76.03 L383.52,76.76 L383.73,77.26 L383.95,77.68 L384.16,78.29 L384.38,78.68 L384.6,79.13 L385.04,79.95 L385.46,80.32 L385.89,80.68 L386.33,81.13 L386.79,81.55 L387.3,81.71 L387.86,81.97 L388.47,82.4 L389.11,82.49 L389.75,82.56 L390.39,82.81 L391,82.75 L391.66,82.97 L392.28,82.92 L392.9,83.06 L393.58,83.23 L394.4,83.32 L394.52,83.35 L394.09,83.24 L393.39,83.34 L392.71,83.29 L392.36,83.27 L392.61,83.41 L393.78,83.54 L396.14,83.58 L400,83.56 L400.33,83.64 L400.67,83.44 L401.03,83.41 L401.39,83.49 L401.77,83.44 L402.17,83.43 L402.57,83.49 L402.99,83.55 L403.41,83.52 L403.85,83.46 L404.3,83.62 L404.76,83.67 L405.24,83.51 L405.72,83.4 L406.21,83.39 L406.71,83.64 L407.22,83.39 L407.75,83.6 L408.28,83.56 L408.82,83.48 L409.37,83.63 L409.93,83.4 L410.49,83.43 L411.07,83.53 L411.65,83.4 L412.25,83.65 L412.85,83.47 L413.45,83.45 L414.07,83.42 L414.69,83.6 L415.32,83.54 L415.96,83.6 L416.6,83.61 L417.25,83.66 L417.91,83.7 L418.57,83.62 L419.24,83.48 L419.91,83.56 L420.59,83.48 L421.27,83.43 L421.96,83.57 L422.66,83.64 L423.35,83.48 L424.06,83.51 L424.76,83.54 L425.48,83.64 L426.19,83.59 L426.91,83.62 L427.63,83.67 L428.36,83.56 L429.08,83.68 L429.81,83.72 L430.55,83.47 L431.28,83.73 L432.02,83.67 L432.76,83.49 L433.5,83.59 L434.25,83.64 L434.99,83.73 L435.74,83.57 L436.48,83.63 L437.23,83.73 L437.98,83.7 L438.73,83.75 L439.48,83.61 L440.22,83.66 L440.97,83.53 L441.72,83.69 L442.47,83.72 L443.21,83.67 L443.96,83.69 L444.7,83.54 L445.44,83.75 L446.19,83.78 L446.92,83.78 L447.66,83.65 L448.4,83.72 L449.13,83.58 L449.86,83.76 L450.58,83.75 L451.31,83.6 L452.03,83.52 L452.74,83.63 L453.45,83.66 L454.16,83.73 L454.87,83.65 L455.57,83.51 L456.26,83.75 L456.95,83.52 L457.64,83.75 L458.32,83.56 L459,83.61 L459.67,83.75 L460.33,83.55 L460.99,83.56 L461.64,83.67 L462.29,83.73 L462.93,83.77 L463.56,83.72 L464.18,83.8 L464.8,83.67 L465.41,83.81 L466.02,83.55 L466.61,83.59 L467.2,83.68 L467.78,83.61 L468.35,83.75 L468.91,83.72 L469.46,83.69 L470.01,83.78 L470.54,83.7 L471.07,83.63 L471.59,83.65 L472.09,83.79 L472.59,83.81 L473.07,83.6 L473.55,83.79 L474.02,83.83 L474.47,83.7 L474.91,83.71 L475.34,83.6 L475.76,83.7 L476.17,83.69 L476.57,83.73 L476.96,83.55 L477.33,83.84 L477.69,83.7 L478.04,83.67 L478.37,83.79 L478.69,83.72 L479,83.7" fill="none" stroke="#222" stroke-width="1.3" stroke-linejoin="round" />
<path d="M292.7,28.59 L293.04,28.64 L293.45,28.63 L293.93,28.47 L294.47,28.42 L295.05,28.52 L295.68,28.48 L296.35,28.62 L297.04,28.57 L297.76,28.52 L298.5,28.48 L299.25,28.48 L300,28.29 L300.54,28.35 L301.11,28.24 L301.7,28.43 L302.31,28.15 L302.94,28.34 L303.58,28.08 L304.23,28.22 L304.89,28.08 L305.56,28.06 L306.22,28.14 L306.89,27.85 L307.55,27.82 L308.21,28.03 L308.85,27.86 L309.48,27.68 L310.1,27.9 L310.7,27.83 L311.36,27.52 L312,27.55 L312.64,27.4 L313.26,27.39 L313.88,27.41 L314.49,27.2 L315.09,27.29 L315.69,27.02 L316.3,26.98 L316.9,27.1 L317.51,26.9 L318.12,26.82 L318.74,26.79 L319.36,26.68 L320,26.57 L320.61,26.38 L321.23,26.5 L321.86,26.49 L322.5,26.4 L323.14,26.22 L323.79,26.03 L324.44,25.94 L325.09,25.94 L325.73,25.85 L326.37,25.59 L327.01,25.53 L327.63,25.48 L328.24,25.44 L328.85,25.45 L329.43,25.27 L330,25.06 L330.68,25.21 L331.33,24.99 L331.96,24.92 L332.58,24.74 L333.18,24.7 L333.78,24.6 L334.36,24.63 L334.94,24.36 L335.52,24.43 L336.11,24.26 L336.69,24.38 L337.29,24.16 L337.9,24.23 L338.51,24.27 L339.13,24.39 L339.74,24.26 L340.35,24.45 L340.96,24.44 L341.57,24.55 L342.19,24.7 L342.81,24.95 L343.43,24.92 L344.07,25.17 L344.7,25.06 L345.35,25.4 L346,25.36 L346.57,25.41 L347.14,25.69 L347.71,25.85 L348.29,25.69 L348.87,25.88 L349.45,26.15 L350.04,26.15 L350.63,26.25 L351.23,26.32 L351.83,26.48 L352.45,26.81 L353.07,27.08 L353.7,27.26 L354.35,27.3 L355,27.36 L355.53,27.61 L356.07,27.93 L356.62,28.13 L357.19,28.27 L357.76,28.34 L358.34,28.64 L358.93,28.84 L359.52,29.1 L360.11,29.22 L360.7,29.65 L361.29,29.86 L361.88,29.87 L362.47,30.14 L363.05,30.55 L363.62,30.61 L364.18,31.04 L364.73,31.15 L365.27,31.43 L365.8,31.66 L366.41,31.79 L367.03,32.09 L367.64,32.36 L368.24,32.77 L368.84,33.07 L369.43,33.19 L370.01,33.71 L370.59,33.86 L371.15,34.09 L371.7,34.44 L372.24,34.89 L372.77,35.05 L373.28,35.34 L373.77,35.7 L374.24,35.98 L374.7,36.18 L375.39,36.46 L376.03,36.88 L376.63,37.31 L377.2,37.61 L377.73,37.87 L378.24,38.13 L378.72,38.48 L379.19,38.95 L379.65,39.29 L380.1,39.56 L380.54,40.22 L380.95,40.76 L381.34,41.22 L381.71,41.76 L382.07,42.3 L382.41,42.73 L382.74,43.38 L383.07,43.84 L383.38,44.36 L383.7,45.06 L383.96,45.58 L384.2,46.31 L384.44,46.79 L384.67,47.32 L384.89,47.92 L385.11,48.37 L385.33,49.1 L385.54,49.77 L385.75,50.31 L385.97,50.9 L386.18,51.61 L386.4,52.25 L386.58,52.9 L386.75,53.29 L386.92,53.85 L387.1,54.49 L387.27,55.2 L387.44,55.81 L387.61,56.38 L387.79,57.07 L387.96,57.51 L388.13,58.02 L388.3,58.77 L388.48,59.37 L388.65,59.9 L388.82,60.65 L389,61.15 L389.18,61.72 L389.35,62.36 L389.53,63.16 L389.71,63.49 L389.89,64.22 L390.07,64.81 L390.25,65.41 L390.43,66.09 L390.62,66.64 L390.8,67.46 L390.98,67.93 L391.16,68.57 L391.34,68.99 L391.52,69.64 L391.7,70.23 L391.93,70.97 L392.15,71.46 L392.38,72.18 L392.6,72.94 L392.82,73.57 L393.05,74.01 L393.27,74.7 L393.5,75.35 L393.72,75.81 L393.95,76.43 L394.17,76.95 L394.4,77.54 L394.73,78.12 L395.03,78.83 L395.33,79.35 L395.64,80.04 L395.96,80.45 L396.3,80.99 L396.68,81.38 L397.1,81.74 L397.61,82.04 L398.14,82.32 L398.7,82.6 L399.3,82.64 L399.98,82.68 L400.74,82.99 L401.6,82.94 L401.94,83.18 L402.07,83.12 L402.05,83.09 L401.95,83.26 L401.83,83.29 L401.75,83.14 L401.77,83.09 L401.96,83.26 L402.37,83.33 L403.07,83.27 L404.12,83.34 L405.59,83.24 L407.52,83.32 L410,83.23 L410.34,83.27 L410.7,83.27 L411.07,83.27 L411.46,83.28 L411.86,83.41 L412.27,83.22 L412.69,83.23 L413.13,83.25 L413.58,83.47 L414.04,83.33 L414.52,83.2 L415,83.43 L415.5,83.45 L416,83.43 L416.52,83.3 L417.05,83.41 L417.59,83.29 L418.14,83.24 L418.7,83.46 L419.27,83.46 L419.84,83.27 L420.43,83.48 L421.03,83.22 L421.63,83.31 L422.24,83.22 L422.86,83.28 L423.49,83.28 L424.12,83.44 L424.77,83.32 L425.42,83.29 L426.07,83.29 L426.74,83.34 L427.4,83.5 L428.08,83.43 L428.76,83.28 L429.45,83.46 L430.14,83.42 L430.83,83.39 L431.53,83.42 L432.24,83.46 L432.95,83.51 L433.66,83.42 L434.38,83.47 L435.1,83.42 L435.82,83.47 L436.55,83.4 L437.28,83.41 L438.01,83.45 L438.74,83.51 L439.48,83.38 L440.21,83.58 L440.95,83.45 L441.69,83.56 L442.43,83.52 L443.17,83.6 L443.91,83.52 L444.65,83.45 L445.4,83.44 L446.14,83.51 L446.88,83.55 L447.61,83.58 L448.35,83.37 L449.09,83.35 L449.82,83.37 L450.55,83.37 L451.28,83.36 L452.01,83.35 L452.74,83.42 L453.46,83.39 L454.18,83.56 L454.89,83.54 L455.6,83.65 L456.31,83.65 L457.01,83.59 L457.71,83.65 L458.41,83.38 L459.1,83.44 L459.78,83.65 L460.46,83.52 L461.13,83.44 L461.79,83.61 L462.45,83.51 L463.11,83.55 L463.75,83.49 L464.39,83.47 L465.02,83.42 L465.65,83.58 L466.26,83.69 L466.87,83.7 L467.47,83.63 L468.06,83.69 L468.65,83.52 L469.22,83.5 L469.78,83.69 L470.34,83.6 L470.88,83.62 L471.42,83.42 L471.94,83.49 L472.45,83.57 L472.95,83.64 L473.45,83.68 L473.92,83.66 L474.39,83.53 L474.85,83.55 L475.29,83.69 L475.72,83.73 L476.14,83.58 L476.55,83.5 L476.94,83.63 L477.32,83.6 L477.68,83.55 L478.03,83.52 L478.37,83.56 L478.69,83.63 L479,83.49" fill="none" stroke="#ff1a1a" stroke-width="1.3" stroke-linejoin="round" />
<line x1="370.4" y1="38.2" x2="372.2" y2="43.8" stroke="#111" stroke-width="1.0" stroke-dasharray="1.6,1.2"/>
<line x1="380" y1="38.3" x2="383" y2="47.5" stroke="#ff1a1a" stroke-width="1.0" stroke-dasharray="1.6,1.2"/>
<rect x="292.2" y="5.1" width="187.2" height="79.2" fill="none" stroke="#000" stroke-width="1.3" />
<line x1="290" y1="5.1" x2="292.2" y2="5.1" stroke="#000" stroke-width="1.1" />
<line x1="290" y1="24.6" x2="292.2" y2="24.6" stroke="#000" stroke-width="1.1" />
<line x1="290" y1="44.8" x2="292.2" y2="44.8" stroke="#000" stroke-width="1.1" />
<line x1="290" y1="65.2" x2="292.2" y2="65.2" stroke="#000" stroke-width="1.1" />
<line x1="290" y1="84.3" x2="292.2" y2="84.3" stroke="#000" stroke-width="1.1" />
<line x1="292.2" y1="84.3" x2="292.2" y2="87.1" stroke="#000" stroke-width="1.1" />
<text x="292.2" y="94.9" font-family="Liberation Sans" font-size="7.4" font-weight="normal" text-anchor="middle" fill="#000"  textLength="14.3" lengthAdjust="spacingAndGlyphs">16.0</text>
<line x1="315.59" y1="84.3" x2="315.59" y2="86.1" stroke="#000" stroke-width="1.1" />
<line x1="338.97" y1="84.3" x2="338.97" y2="87.1" stroke="#000" stroke-width="1.1" />
<text x="338.97" y="94.9" font-family="Liberation Sans" font-size="7.4" font-weight="normal" text-anchor="middle" fill="#000"  textLength="14.3" lengthAdjust="spacingAndGlyphs">16.5</text>
<line x1="362.36" y1="84.3" x2="362.36" y2="86.1" stroke="#000" stroke-width="1.1" />
<line x1="385.75" y1="84.3" x2="385.75" y2="87.1" stroke="#000" stroke-width="1.1" />
<text x="385.75" y="94.9" font-family="Liberation Sans" font-size="7.4" font-weight="normal" text-anchor="middle" fill="#000"  textLength="14.3" lengthAdjust="spacingAndGlyphs">17.0</text>
<line x1="409.14" y1="84.3" x2="409.14" y2="86.1" stroke="#000" stroke-width="1.1" />
<line x1="432.52" y1="84.3" x2="432.52" y2="87.1" stroke="#000" stroke-width="1.1" />
<text x="432.52" y="94.9" font-family="Liberation Sans" font-size="7.4" font-weight="normal" text-anchor="middle" fill="#000"  textLength="14.3" lengthAdjust="spacingAndGlyphs">17.5</text>
<line x1="455.91" y1="84.3" x2="455.91" y2="86.1" stroke="#000" stroke-width="1.1" />
<line x1="479.3" y1="84.3" x2="479.3" y2="87.1" stroke="#000" stroke-width="1.1" />
<text x="479.3" y="94.9" font-family="Liberation Sans" font-size="7.4" font-weight="normal" text-anchor="middle" fill="#000"  textLength="14.3" lengthAdjust="spacingAndGlyphs">18.0</text>
<line x1="409.8" y1="37" x2="426" y2="37" stroke="#222" stroke-width="1.3" />
<text x="428.6" y="39.5" font-family="Liberation Sans" font-size="8.4" font-weight="bold" text-anchor="start" fill="#000" >Pristine</text>
<line x1="409.8" y1="52.4" x2="426" y2="52.4" stroke="#ff1a1a" stroke-width="1.3" />
<text x="428.6" y="54.7" font-family="Liberation Sans" font-size="8.4" font-weight="bold" text-anchor="start" fill="#000" >With PbF</text>
<text x="466.3" y="56.9" font-family="Liberation Sans" font-size="4.8" font-weight="bold" text-anchor="start" fill="#000" >2</text>
<text x="444.8" y="15.1" font-family="Liberation Sans" font-size="9.4" font-weight="bold" text-anchor="start" fill="#000" >E</text>
<text x="450.6" y="18.1" font-family="Liberation Sans" font-size="7.0" font-weight="bold" text-anchor="start" fill="#000"  textLength="21.3" lengthAdjust="spacingAndGlyphs">cutoff</text>
<line x1="370.4" y1="171.2" x2="391" y2="168.4" stroke="#9a9a9a" stroke-width="0.9" />
<line x1="380.3" y1="172" x2="386.2" y2="156" stroke="#9a9a9a" stroke-width="0.9" />
<path d="M293.2,178.7 L293.9,178.78 L294.84,178.31 L295.97,178.66 L297.24,178.31 L298.6,178.25 L300,178.14 L300.87,178.53 L301.8,177.9 L302.76,178.21 L303.77,178.26 L304.8,177.84 L305.85,177.68 L306.9,177.57 L307.95,177.54 L308.99,177.89 L310,177.31 L311,177.78 L312,177.69 L313,177.13 L314,177.46 L315,177.06 L316,177.48 L317,176.93 L318,177.28 L319,177.13 L320,176.69 L321,177.03 L322,176.56 L323,176.86 L324,176.27 L325,176.67 L326,176.11 L327,176.11 L328,176.32 L329,176.23 L330,175.84 L331,176.05 L332,175.66 L333,175.89 L334,175.36 L335,175.46 L336,174.95 L337,174.89 L338,174.75 L339,175.03 L340,174.95 L340.99,174.35 L341.97,174.65 L342.95,174.65 L343.92,174.01 L344.89,174.4 L345.88,173.95 L346.88,174.26 L347.89,173.77 L348.93,174.11 L350,173.59 L351.01,173.73 L352.06,173.6 L353.15,173.24 L354.26,173.35 L355.37,172.85 L356.49,172.69 L357.59,173 L358.68,172.79 L359.73,172.37 L360.74,172.68 L361.7,172.11 L362.96,172.28 L364.19,171.9 L365.37,172 L366.51,171.97 L367.58,171.4 L368.6,171.51 L369.54,171.09 L370.4,170.81 L371.54,170.62 L372.42,169.76 L373.17,168.73 L373.92,168.3 L374.8,167.29 L375.54,166.38 L376.33,166.26 L377.15,165.58 L377.98,164.47 L378.78,164.2 L379.53,163.27 L380.2,162.5 L380.87,162.13 L381.46,161.14 L381.99,159.86 L382.49,159.05 L382.98,158.41 L383.5,157.2 L383.96,156.59 L384.42,155.3 L384.87,154.93 L385.33,154.02 L385.78,152.6 L386.24,152.11 L386.7,150.44 L387.03,149.74 L387.35,149.07 L387.68,147.7 L388.01,146.82 L388.34,146.23 L388.68,144.66 L389.01,143.69 L389.34,142.67 L389.67,142.1 L390,140.86 L390.37,140.27 L390.76,138.9 L391.14,138.14 L391.53,136.9 L391.92,136.3 L392.29,135 L392.65,134.06 L392.99,133.54 L393.3,132.47 L393.62,130.92 L393.91,130.26 L394.17,128.9 L394.42,128.07 L394.66,126.56 L394.9,125.66 L395.14,124.95 L395.4,123.5 L395.67,122.68 L395.94,121.64 L396.22,120.12 L396.49,119.48 L396.77,118.39 L397.05,116.92 L397.32,116.09 L397.6,114.71 L397.88,113.67 L398.15,112.92 L398.43,111.48 L398.71,110.25 L398.98,109.5 L399.26,107.99 L399.53,107.39 L399.8,106.07 L400.12,105.3 L400.47,103.54 L400.82,102.86 L401.15,101.58 L401.46,100.18 L401.71,99.76 L401.9,98.9" fill="none" stroke="#ff1a1a" stroke-width="1.2" stroke-linejoin="round" />
<path d="M293.2,177.2 L293.9,176.46 L294.84,177.68 L295.97,176.27 L297.24,176.38 L298.6,177.31 L300,176.3 L300.87,177.06 L301.8,177.1 L302.76,176.32 L303.77,175.81 L304.8,175.81 L305.85,176.87 L306.9,175.98 L307.95,175.74 L308.99,176.96 L310,175.25 L311,176.65 L312,175.39 L313,176.19 L314,176.25 L315,176.16 L316,176.53 L317,176.38 L318,174.82 L319,176.05 L320,175.8 L321,176.15 L322,174.74 L323,175.67 L324,175.59 L325,174.66 L326,175.79 L327,174.23 L328,175.45 L329,173.95 L330,175.16 L331,174.01 L332,175.11 L333,173.48 L334,174.33 L335,173.07 L336,173.21 L337,174.28 L338,174.32 L339,172.43 L340,172.56 L340.99,172.51 L341.97,173.41 L342.95,173.26 L343.92,172.02 L344.89,172.13 L345.88,172.31 L346.88,172.97 L347.89,172.04 L348.93,172.8 L350,173.09 L351.01,171.52 L352.06,172.84 L353.15,171.12 L354.26,172.12 L355.37,172.36 L356.49,172.11 L357.59,170.69 L358.68,170.73 L359.73,171.5 L360.74,171.21 L361.7,169.93 L362.96,171.28 L364.19,169.67 L365.37,170.76 L366.51,169.29 L367.58,169.65 L368.6,170.16 L369.54,169.08 L370.4,170.22 L371.53,168.65 L372.38,169.05 L373.12,167.69 L373.87,167.93 L374.8,166.18 L375.62,166.67 L376.52,164.97 L377.48,164.39 L378.45,165.06 L379.39,163.06 L380.25,163.83 L381,161.69 L381.72,161.86 L382.32,160.25 L382.84,159.38 L383.31,159.54 L383.79,158.31 L384.3,156.41 L384.76,157.03 L385.22,154.58 L385.67,155.04 L386.13,152.73 L386.58,152.05 L387.04,152.41 L387.5,150.08 L387.83,150.33 L388.15,149.19 L388.48,147.4 L388.81,147.24 L389.14,145.17 L389.48,145.07 L389.81,143.09 L390.14,143.34 L390.47,142.37 L390.8,140.28 L391.17,140.27 L391.56,137.82 L391.94,138.3 L392.33,136.04 L392.72,135.05 L393.09,135.61 L393.45,133.1 L393.79,133.66 L394.1,131.15 L394.42,131.57 L394.71,130.7 L394.97,129.01 L395.22,127.18 L395.46,126.92 L395.7,125.15 L395.94,125.25 L396.2,122.74 L396.47,123.08 L396.74,120.73 L397.02,120.71 L397.29,118.52 L397.57,117.39 L397.85,117.58 L398.12,114.99 L398.4,115.25 L398.68,112.99 L398.95,111.83 L399.23,111.93 L399.51,109.78 L399.78,109.5 L400.06,107.1 L400.33,107.7 L400.6,106.61 L400.92,104.13 L401.27,104.15 L401.62,101.87 L401.95,101.76 L402.26,99.65 L402.51,100.08 L402.7,98.6" fill="none" stroke="#111" stroke-width="1.1" stroke-linejoin="round" />
<rect x="293" y="99" width="186.4" height="79" fill="none" stroke="#000" stroke-width="1.3" />
<line x1="290.6" y1="99" x2="293" y2="99" stroke="#000" stroke-width="1.1" />
<line x1="290.6" y1="109" x2="293" y2="109" stroke="#000" stroke-width="1.1" />
<line x1="290.6" y1="119" x2="293" y2="119" stroke="#000" stroke-width="1.1" />
<line x1="290.6" y1="129" x2="293" y2="129" stroke="#000" stroke-width="1.1" />
<line x1="290.6" y1="139" x2="293" y2="139" stroke="#000" stroke-width="1.1" />
<line x1="290.6" y1="148.5" x2="293" y2="148.5" stroke="#000" stroke-width="1.1" />
<line x1="290.6" y1="158.5" x2="293" y2="158.5" stroke="#000" stroke-width="1.1" />
<line x1="290.6" y1="168.5" x2="293" y2="168.5" stroke="#000" stroke-width="1.1" />
<line x1="290.6" y1="178" x2="293" y2="178" stroke="#000" stroke-width="1.1" />
<line x1="293" y1="178" x2="293" y2="180.8" stroke="#000" stroke-width="1.1" />
<text x="293" y="188.9" font-family="Liberation Sans" font-size="7.4" font-weight="normal" text-anchor="middle" fill="#000"  textLength="10.3" lengthAdjust="spacingAndGlyphs">0.0</text>
<line x1="306.3" y1="178" x2="306.3" y2="179.8" stroke="#000" stroke-width="1.1" />
<line x1="319.6" y1="178" x2="319.6" y2="180.8" stroke="#000" stroke-width="1.1" />
<text x="319.6" y="188.9" font-family="Liberation Sans" font-size="7.4" font-weight="normal" text-anchor="middle" fill="#000"  textLength="10.3" lengthAdjust="spacingAndGlyphs">0.5</text>
<line x1="332.9" y1="178" x2="332.9" y2="179.8" stroke="#000" stroke-width="1.1" />
<line x1="346.2" y1="178" x2="346.2" y2="180.8" stroke="#000" stroke-width="1.1" />
<text x="346.2" y="188.9" font-family="Liberation Sans" font-size="7.4" font-weight="normal" text-anchor="middle" fill="#000"  textLength="10.3" lengthAdjust="spacingAndGlyphs">1.0</text>
<line x1="359.5" y1="178" x2="359.5" y2="179.8" stroke="#000" stroke-width="1.1" />
<line x1="372.8" y1="178" x2="372.8" y2="180.8" stroke="#000" stroke-width="1.1" />
<text x="372.8" y="188.9" font-family="Liberation Sans" font-size="7.4" font-weight="normal" text-anchor="middle" fill="#000"  textLength="10.3" lengthAdjust="spacingAndGlyphs">1.5</text>
<line x1="386.1" y1="178" x2="386.1" y2="179.8" stroke="#000" stroke-width="1.1" />
<line x1="399.4" y1="178" x2="399.4" y2="180.8" stroke="#000" stroke-width="1.1" />
<text x="399.4" y="188.9" font-family="Liberation Sans" font-size="7.4" font-weight="normal" text-anchor="middle" fill="#000"  textLength="10.3" lengthAdjust="spacingAndGlyphs">2.0</text>
<line x1="412.7" y1="178" x2="412.7" y2="179.8" stroke="#000" stroke-width="1.1" />
<line x1="426" y1="178" x2="426" y2="180.8" stroke="#000" stroke-width="1.1" />
<text x="426" y="188.9" font-family="Liberation Sans" font-size="7.4" font-weight="normal" text-anchor="middle" fill="#000"  textLength="10.3" lengthAdjust="spacingAndGlyphs">2.5</text>
<line x1="439.3" y1="178" x2="439.3" y2="179.8" stroke="#000" stroke-width="1.1" />
<line x1="452.6" y1="178" x2="452.6" y2="180.8" stroke="#000" stroke-width="1.1" />
<text x="452.6" y="188.9" font-family="Liberation Sans" font-size="7.4" font-weight="normal" text-anchor="middle" fill="#000"  textLength="10.3" lengthAdjust="spacingAndGlyphs">3.0</text>
<line x1="465.9" y1="178" x2="465.9" y2="179.8" stroke="#000" stroke-width="1.1" />
<line x1="479.2" y1="178" x2="479.2" y2="180.8" stroke="#000" stroke-width="1.1" />
<text x="479.2" y="188.9" font-family="Liberation Sans" font-size="7.4" font-weight="normal" text-anchor="middle" fill="#000"  textLength="10.3" lengthAdjust="spacingAndGlyphs">3.5</text>
<text x="444.7" y="110.6" font-family="Liberation Sans" font-size="9.6" font-weight="bold" text-anchor="start" fill="#000" >E</text>
<text x="451.2" y="113.4" font-family="Liberation Sans" font-size="7.2" font-weight="bold" text-anchor="start" fill="#000"  textLength="15.6" lengthAdjust="spacingAndGlyphs">VBM</text>
<text textLength="55.6" lengthAdjust="spacingAndGlyphs" transform="translate(280.2,85.1) rotate(-90)" x="0" y="2.29" font-family="Liberation Sans" font-size="8.8" font-weight="bold" text-anchor="middle" fill="#000">Intensity (a.u.)</text>
<text x="386.3" y="204.2" font-family="Liberation Sans" font-size="9.1" font-weight="bold" text-anchor="middle" fill="#000"  textLength="50.8" lengthAdjust="spacingAndGlyphs">Energy (eV)</text>
<text x="272.3" y="11.6" font-family="Liberation Serif" font-size="13.8" font-weight="normal" text-anchor="start" fill="#000"  textLength="15.5" lengthAdjust="spacingAndGlyphs">(b)</text>
<defs><linearGradient id="eg" x1="0" y1="0" x2="0" y2="1"><stop offset="0" stop-color="#74260a"/><stop offset="0.3" stop-color="#9a4222"/><stop offset="0.55" stop-color="#d98a62"/><stop offset="0.8" stop-color="#f7d2bd"/><stop offset="1" stop-color="#ffffff"/></linearGradient></defs>
<rect x="512.2" y="32" width="2.4" height="155" fill="url(#eg)" stroke="none" stroke-width="1" />
<path d="M513.4,20.7 L516.9,33.8 L510,33.8 Z" fill="#7a2a0a"/>
<text transform="translate(506,101) rotate(-90)" x="0" y="1.92" font-family="Liberation Sans" font-size="7.4" font-weight="bold" text-anchor="middle" fill="#000">Energy</text>
<rect x="531.9" y="46" width="35.7" height="142.3" fill="#94D9F6" stroke="none" stroke-width="1" />
<rect x="571.4" y="51.5" width="35.1" height="85.9" fill="#C4531C" stroke="none" stroke-width="1" />
<rect x="610.1" y="38.8" width="35.7" height="86.2" fill="#7B3010" stroke="none" stroke-width="1" />
<rect x="648.4" y="19.9" width="36.4" height="93.9" fill="#E29BDB" stroke="none" stroke-width="1" />
<text x="549.5" y="42.2" font-family="Liberation Sans" font-size="7.6" font-weight="bold" text-anchor="middle" fill="#000" >-4.25 eV</text>
<text x="588.5" y="47.4" font-family="Liberation Sans" font-size="7.6" font-weight="bold" text-anchor="middle" fill="#000" >-4.31 eV</text>
<text x="627.4" y="34.5" font-family="Liberation Sans" font-size="7.6" font-weight="bold" text-anchor="middle" fill="#000" >-4.20 eV</text>
<text x="666.9" y="16.6" font-family="Liberation Sans" font-size="7.6" font-weight="bold" text-anchor="middle" fill="#000" >-2.05 eV</text>
<text x="548.6" y="197.7" font-family="Liberation Sans" font-size="7.6" font-weight="bold" text-anchor="middle" fill="#000" >-8.25 eV</text>
<text x="588.6" y="146.8" font-family="Liberation Sans" font-size="7.6" font-weight="bold" text-anchor="middle" fill="#000" >-5.71 eV</text>
<text x="628.1" y="134.4" font-family="Liberation Sans" font-size="7.6" font-weight="bold" text-anchor="middle" fill="#000" >-5.60 eV</text>
<text x="665.5" y="123.7" font-family="Liberation Sans" font-size="7.6" font-weight="bold" text-anchor="middle" fill="#000" >-5.22 eV</text>
<text x="549.9" y="120" font-family="Liberation Sans" font-size="7.8" font-weight="normal" text-anchor="middle" fill="#f2fbff" stroke="#f2fbff" stroke-width="0.35">SnO<tspan font-size="4.6" dy="1.5">2</tspan></text>
<text x="588.9" y="97.6" font-family="Liberation Sans" font-size="7.8" font-weight="normal" text-anchor="middle" fill="#fff4ee" stroke="#fff4ee" stroke-width="0.35">Pristine</text>
<text x="628.1" y="79.4" font-family="Liberation Sans" font-size="7.8" font-weight="normal" text-anchor="middle" fill="#fbeee8" stroke="#fbeee8" stroke-width="0.35">With</text>
<text x="628.1" y="89.6" font-family="Liberation Sans" font-size="7.8" font-weight="normal" text-anchor="middle" fill="#fbeee8" stroke="#fbeee8" stroke-width="0.35">PbF<tspan font-size="4.6" dy="1.5">2</tspan></text>
<text x="666.5" y="64.8" font-family="Liberation Sans" font-size="7.8" font-weight="normal" text-anchor="middle" fill="#fdf0fb" stroke="#fdf0fb" stroke-width="0.35">Spiro-</text>
<text x="666.5" y="74.8" font-family="Liberation Sans" font-size="7.8" font-weight="normal" text-anchor="middle" fill="#fdf0fb" stroke="#fdf0fb" stroke-width="0.35">MeOTAD</text>
<path d="M601.23,17.13 L600.79,16.24 L600.28,15.39 L599.71,14.58 L599.08,13.81 L598.4,13.08 L597.66,12.39 L596.88,11.75 L596.05,11.15 L595.17,10.6 L594.26,10.1 L593.3,9.65 L592.32,9.25 L591.3,8.9 L590.26,8.6 L589.19,8.35 L588.11,8.16 L587,8.02 L585.88,7.94 L584.74,7.91 L583.6,7.95 L582.45,8.04 L581.3,8.19 L580.15,8.4 L579,8.68 L577.86,9.01 L576.75,9.47 L575.66,9.99 L574.59,10.57 L573.55,11.21 L572.54,11.92 L571.56,12.7 L570.61,13.54 L569.71,14.45 L568.85,15.42 L568.04,16.47 L567.27,17.57 L566.56,18.75 L565.91,19.99 L565.32,21.3 L564.79,22.67 L567.81,23.73 L568.27,22.53 L568.79,21.39 L569.35,20.32 L569.96,19.31 L570.61,18.36 L571.31,17.47 L572.04,16.64 L572.81,15.87 L573.62,15.15 L574.45,14.49 L575.31,13.88 L576.2,13.33 L577.11,12.84 L578.05,12.39 L578.99,12 L579.94,11.61 L580.91,11.27 L581.88,10.98 L582.87,10.74 L583.87,10.55 L584.88,10.41 L585.89,10.33 L586.89,10.29 L587.9,10.3 L588.89,10.37 L589.88,10.48 L590.85,10.65 L591.81,10.86 L592.75,11.12 L593.67,11.44 L594.56,11.8 L595.42,12.21 L596.25,12.67 L597.05,13.18 L597.82,13.73 L598.54,14.34 L599.22,15 L599.85,15.71 L600.44,16.46 L600.97,17.27 Z" fill="#C4581F"/>
<path d="M565.3,29 L559.3,23.2 L572.8,22.6 Z" fill="#C4581F"/>
<circle cx="568" cy="5.8" r="5.8" fill="#F6AA1C"/>
<text x="568" y="8.1" font-family="Liberation Sans" font-size="6.8" font-weight="bold" text-anchor="middle" fill="#fde9c0" >e</text>
<path d="M611.58,147.49 L612.14,148.2 L612.75,148.88 L613.41,149.53 L614.13,150.15 L614.89,150.74 L615.7,151.3 L616.55,151.83 L617.44,152.32 L618.37,152.77 L619.33,153.18 L620.32,153.56 L621.33,153.89 L622.37,154.17 L623.44,154.42 L624.52,154.61 L625.61,154.76 L626.72,154.85 L627.84,154.9 L628.96,154.89 L630.09,154.82 L631.22,154.7 L632.34,154.52 L633.46,154.28 L634.58,153.97 L635.68,153.6 L636.77,153.16 L637.84,152.65 L638.88,152.07 L639.89,151.4 L640.86,150.65 L641.79,149.81 L642.67,148.91 L643.51,147.93 L644.3,146.87 L645.05,145.74 L645.73,144.53 L646.36,143.25 L646.92,141.89 L647.42,140.44 L647.86,138.92 L645.34,138.28 L644.95,139.66 L644.49,140.96 L643.99,142.18 L643.43,143.32 L642.83,144.39 L642.18,145.38 L641.49,146.3 L640.75,147.15 L639.99,147.94 L639.19,148.65 L638.35,149.31 L637.5,149.92 L636.63,150.49 L635.73,151 L634.8,151.46 L633.85,151.86 L632.88,152.21 L631.89,152.5 L630.88,152.74 L629.86,152.93 L628.83,153.06 L627.8,153.15 L626.76,153.19 L625.73,153.17 L624.7,153.11 L623.67,153.01 L622.65,152.86 L621.65,152.66 L620.67,152.42 L619.7,152.14 L618.76,151.82 L617.84,151.46 L616.96,151.06 L616.1,150.63 L615.28,150.16 L614.5,149.65 L613.76,149.11 L613.06,148.54 L612.42,147.94 L611.82,147.31 Z" fill="#C8602A"/>
<path d="M646.4,133.1 L640.3,139.6 L652.9,138.7 Z" fill="#C8602A"/>
<circle cx="636.1" cy="162.2" r="5.8" fill="#3DA02C"/>
<text x="636.1" y="164.9" font-family="Liberation Sans" font-size="7.5" font-weight="bold" text-anchor="middle" fill="#e8f6e0" >h</text>
<text x="492.6" y="11" font-family="Liberation Serif" font-size="13.8" font-weight="normal" text-anchor="start" fill="#000"  textLength="14.3" lengthAdjust="spacingAndGlyphs">(c)</text>
<rect x="33.9" y="213.9" width="125.8" height="146.9" fill="#FCE5D8" stroke="none" stroke-width="1" />
<rect x="159.7" y="213.9" width="64.4" height="146.9" fill="#D0EFFB" stroke="none" stroke-width="1" />
<path d="M34.3,346 L35.2,354 L36.2,361 L42,361 L44,361 L45,353.5 L46,361 L46.8,361 L47.8,353 L48.8,361 L49.6,361 L50.6,353.5 L51.6,361 L58.3,361 L59.3,354 L60.3,361 L62.6,361 L63.6,353 L64.6,361 L64.8,361 L65.8,353.5 L66.8,361 L87.5,361 L88.5,354 L89.5,361 L94.5,361 L95.5,347.5 L96.5,361 L104.8,361 L105.8,352 L106.8,361 L111.2,361 L112.2,351 L113.2,361 L113.5,361 L114.3,349.3 L115.5,356 L118.1,342.9 L119.4,348 L120.7,339.7 L122,346 L123.5,336 L125,342 L126.5,333 L128,338 L129,331 L129.09,328.89 L130,332.01 L130.77,325.75 L131.78,329.17 L132.94,324.09 L134.19,322.83 L135.43,322.27 L136.6,324.5 L137.71,320.91 L138.83,323.65 L139.95,317.64 L141.07,322.3 L142.19,319.86 L143.3,314.8 L144.25,318.93 L145.19,312.47 L146.14,317.61 L147.08,311.76 L148.02,314.77 L148.96,308.58 L149.9,309.06 L151.27,311.22 L152.69,307.27 L154.09,309.15 L155.38,306.49 L156.5,308.22 L157.75,304.07 L158.65,306.83 L159.9,303.05 L160.78,304.17 L161.74,300.96 L162.79,301.34 L163.93,301.85 L165.17,299.78 L166.5,300.56 L167.75,298.98 L169.11,298.28 L170.55,299.19 L172.04,297.75 L173.55,298.55 L175.05,298.13 L176.5,296.78 L177.92,297.79 L179.33,295.93 L180.74,297.06 L182.16,296.62 L183.57,295.3 L184.98,295.65 L186.4,294.72 L187.82,295.28 L189.25,294.04 L190.68,294.84 L192.11,293.19 L193.54,294.4 L194.97,293.02 L196.4,292.56 L197.83,292.79 L199.26,293.56 L200.69,292 L202.12,292.6 L203.55,291.34 L204.98,292.32 L206.4,291.16 L207.84,292.19 L209.31,291.72 L210.79,290.48 L212.25,291.8 L213.67,291.4 L215.03,290.5 L216.3,290.17 L218.03,291.15 L219.72,290.07 L221.27,290.77 L222.56,289.59 L223.5,290" fill="none" stroke="#2f2520" stroke-width="1.15" stroke-linejoin="round" />
<path d="M34.3,303.4 L35.4,353 L36.4,361 L38,351 L39.1,348 L40.4,361 L42,356 L43.6,353.1 L44.6,361 L96.9,361 L98.8,353 L100.1,358 L102,350.6 L104,344.1 L105.9,346.7 L107.8,341.6 L109.1,350.6 L111,339 L113,345.4 L114.5,328.4 L116.5,340 L118.5,330 L120.5,334 L122.1,325.5 L124,331 L126,324 L128,328 L129.8,318.5 L129.49,317.52 L130,321.52 L130.73,317.1 L131.72,320.09 L132.89,315.73 L134.16,318.43 L135.42,312.81 L136.6,315.1 L137.71,315.47 L138.83,311.49 L139.95,313.42 L141.07,312.95 L142.19,308.64 L143.3,310.77 L144.65,306.8 L146.02,307.47 L147.38,306.59 L148.68,310.21 L149.9,304.92 L151.26,307.29 L152.5,305.14 L153.69,304.95 L154.9,305.93 L156.11,302.77 L157.3,302.36 L158.54,302.42 L159.9,299.86 L161.06,299.41 L162.26,300.79 L163.54,300.92 L164.94,298.97 L166.5,298.16 L167.75,299.36 L169.11,297.62 L170.55,299.49 L172.04,297.24 L173.55,298.3 L175.05,296.43 L176.5,296.9 L177.93,298.43 L179.38,298.04 L180.83,295.5 L182.27,297.5 L183.68,294.86 L185.07,295.12 L186.4,296.27 L187.89,294.64 L189.32,297.11 L190.71,295.77 L192.07,297.96 L193.43,296.38 L194.8,297.95 L196.16,298.72 L197.48,298.99 L198.8,298.89 L200.14,298 L201.53,300.15 L203,298.29 L204.33,299.71 L205.71,298.54 L207.13,300.9 L208.58,301.09 L210.05,299.33 L211.53,301.1 L213,299.6 L214.36,300.4 L215.84,299.15 L217.36,299.88 L218.88,298.52 L220.31,299.44 L221.6,297.65 L222.69,298.88 L223.5,298.3" fill="none" stroke="#2a2ade" stroke-width="1.2" stroke-linejoin="round" />
<path d="M33.8,233.5 L34.36,233.76 L35.14,234.66 L36.06,235.14 L37.04,236 L38,236.29 L38.89,237.17 L39.76,237.19 L40.7,237.93 L41.75,238.43 L43,238.55 L43.8,239.23 L44.65,239.19 L45.57,239.4 L46.53,240.08 L47.52,240.46 L48.54,240.43 L49.59,241.16 L50.64,241.45 L51.7,241.69 L52.66,241.61 L53.64,241.63 L54.63,242.2 L55.65,241.98 L56.68,242.4 L57.72,242.16 L58.77,242.64 L59.84,242.45 L60.91,242.51 L62,243.03 L62.96,242.73 L63.88,243.11 L64.77,242.89 L65.66,243.39 L66.57,243.04 L67.52,243.44 L68.52,243.22 L69.6,243.7 L70.77,243.36 L72.07,243.77 L73.5,243.62 L74.31,243.53 L75.17,243.98 L76.06,244.08 L77,243.81 L77.96,244.14 L78.95,243.82 L79.97,243.92 L81.02,243.98 L82.08,244.04 L83.16,244.38 L84.25,244.07 L85.36,244.53 L86.47,244.6 L87.58,244.32 L88.7,244.4 L89.81,244.42 L90.91,244.82 L92.01,244.49 L93.09,244.53 L94.15,244.57 L95.2,244.88 L96.24,244.95 L97.28,244.79 L98.32,245.05 L99.36,244.72 L100.41,244.76 L101.46,244.86 L102.5,245.24 L103.55,245.21 L104.6,245.25 L105.65,244.88 L106.69,245.26 L107.74,245.06 L108.78,245.32 L109.82,245.05 L110.86,245.41 L111.89,245.04 L112.92,245.45 L113.95,245.11 L114.97,245.52 L115.99,245.61 L117,245.15 L118.07,245.56 L119.15,245.67 L120.23,245.41 L121.33,245.69 L122.43,245.36 L123.53,245.71 L124.63,245.5 L125.72,245.63 L126.81,245.89 L127.89,245.62 L128.95,245.97 L130.01,246.11 L131.04,246.03 L132.06,245.87 L133.05,246.27 L134.02,245.93 L134.97,245.91 L135.88,246.28 L136.76,246.41 L137.6,246.19 L138.93,246.62 L140.18,246.59 L141.35,246.34 L142.46,246.87 L143.51,246.63 L144.51,247.11 L145.48,246.92 L146.41,247.34 L147.32,247.04 L148.21,247.59 L149.1,247.4 L150,247.83 L151.18,248.17 L152.32,248.13 L153.41,248.29 L154.47,249.06 L155.49,249.32 L156.47,249.28 L157.42,249.89 L158.33,250 L159.2,250.54 L160.39,251.06 L161.44,251.13 L162.4,251.4 L163.34,252.25 L164.32,252.65 L165.4,252.82 L166.28,253.22 L167.2,253.77 L168.14,254.43 L169.11,254.95 L170.08,255.23 L171.06,256.01 L172.04,256.25 L173,256.98 L173.96,257.36 L174.92,258.14 L175.88,258.3 L176.84,258.94 L177.81,259.82 L178.77,260.19 L179.74,261.1 L180.7,261.34 L181.56,261.88 L182.41,262.8 L183.27,263.38 L184.12,263.96 L184.98,264.35 L185.83,265.19 L186.69,265.49 L187.54,266.2 L188.4,266.7 L189.26,267.68 L190.11,267.92 L190.97,268.7 L191.83,268.94 L192.68,269.92 L193.54,270.19 L194.4,271.02 L195.25,271.43 L196.1,272.41 L196.86,272.64 L197.62,273.26 L198.38,274.02 L199.14,274.96 L199.9,275.44 L200.66,276.55 L201.42,277.27 L202.18,277.61 L202.94,278.26 L203.7,279.4 L204.47,279.78 L205.26,280.43 L206.05,281.48 L206.84,282.11 L207.64,282.52 L208.42,283.61 L209.2,283.93 L209.95,285.02 L210.69,285.27 L211.4,286.34 L212.25,286.83 L213.06,287.85 L213.83,288.26 L214.59,289.08 L215.34,290.17 L216.09,290.91 L216.84,291.29 L217.6,291.99 L218.42,293.24 L219.3,294.11 L220.2,295 L221.09,295.49 L221.93,296.38 L222.69,296.98 L223.32,298.01 L223.8,298.3" fill="none" stroke="#ec3128" stroke-width="1.3" stroke-linejoin="round" />
<rect x="43.7" y="265.5" width="43.7" height="38.7" fill="none" stroke="#8a7a70" stroke-width="1.1" rx="1.5"/>
<line x1="46.5" y1="273.3" x2="61.4" y2="273.3" stroke="#2f2520" stroke-width="1.5" />
<text x="64.1" y="275.8" font-family="Liberation Sans" font-size="9" font-weight="bold" text-anchor="start" fill="#000"  textLength="19.4" lengthAdjust="spacingAndGlyphs">SnO</text>
<text x="83.8" y="271.6" font-family="Liberation Sans" font-size="5.5" font-weight="bold" text-anchor="start" fill="#000" >-</text>
<line x1="46.5" y1="285.9" x2="61.4" y2="285.9" stroke="#ec3128" stroke-width="1.5" />
<text x="64.1" y="288.4" font-family="Liberation Sans" font-size="9" font-weight="bold" text-anchor="start" fill="#000"  textLength="14.5" lengthAdjust="spacingAndGlyphs">PbI</text>
<text x="78.9" y="284.2" font-family="Liberation Sans" font-size="5.5" font-weight="bold" text-anchor="start" fill="#000" >-</text>
<line x1="46.5" y1="298.6" x2="61.4" y2="298.6" stroke="#2a2ade" stroke-width="1.5" />
<text x="64.1" y="300.9" font-family="Liberation Sans" font-size="9" font-weight="bold" text-anchor="start" fill="#000"  textLength="5.3" lengthAdjust="spacingAndGlyphs">F</text>
<text x="69.7" y="296.7" font-family="Liberation Sans" font-size="5.5" font-weight="bold" text-anchor="start" fill="#000" >-</text>
<rect x="135.1" y="341.1" width="47.7" height="16.2" fill="none" stroke="#ffffff" stroke-width="0.9" rx="1" opacity="0.8"/>
<rect x="134.1" y="340.1" width="49.7" height="18.2" fill="none" stroke="#555" stroke-width="1.1" rx="0.8"/>
<line x1="159.6" y1="340.1" x2="159.6" y2="358.3" stroke="#555" stroke-width="1.1" />
<text x="139.9" y="355.2" font-family="Liberation Sans" font-size="11.6" font-weight="normal" text-anchor="start" fill="#111" stroke="#111" stroke-width="0.3" textLength="19.2" lengthAdjust="spacingAndGlyphs">PSK</text>
<text x="165" y="355.2" font-family="Liberation Sans" font-size="11.6" font-weight="normal" text-anchor="start" fill="#111" stroke="#111" stroke-width="0.3" textLength="17.6" lengthAdjust="spacingAndGlyphs">ITO</text>
<rect x="33.9" y="213.9" width="190.2" height="147.6" fill="none" stroke="#000" stroke-width="1.2" />
<line x1="31.1" y1="361.4" x2="33.9" y2="361.4" stroke="#000" stroke-width="1.1" />
<text x="26.3" y="364.7" font-family="Liberation Sans" font-size="9" font-weight="normal" text-anchor="end" fill="#000"  textLength="8.0" lengthAdjust="spacingAndGlyphs">10</text>
<text x="27.5" y="359.6" font-family="Liberation Sans" font-size="4.0" font-weight="normal" text-anchor="start" fill="#000" >0</text>
<line x1="32.3" y1="352.62" x2="33.9" y2="352.62" stroke="#000" stroke-width="0.8" />
<line x1="32.3" y1="347.49" x2="33.9" y2="347.49" stroke="#000" stroke-width="0.8" />
<line x1="32.3" y1="343.84" x2="33.9" y2="343.84" stroke="#000" stroke-width="0.8" />
<line x1="32.3" y1="341.02" x2="33.9" y2="341.02" stroke="#000" stroke-width="0.8" />
<line x1="32.3" y1="338.71" x2="33.9" y2="338.71" stroke="#000" stroke-width="0.8" />
<line x1="32.3" y1="336.76" x2="33.9" y2="336.76" stroke="#000" stroke-width="0.8" />
<line x1="32.3" y1="335.07" x2="33.9" y2="335.07" stroke="#000" stroke-width="0.8" />
<line x1="32.3" y1="333.57" x2="33.9" y2="333.57" stroke="#000" stroke-width="0.8" />
<line x1="31.1" y1="332.24" x2="33.9" y2="332.24" stroke="#000" stroke-width="1.1" />
<text x="26.3" y="335.54" font-family="Liberation Sans" font-size="9" font-weight="normal" text-anchor="end" fill="#000"  textLength="8.0" lengthAdjust="spacingAndGlyphs">10</text>
<text x="27.5" y="330.44" font-family="Liberation Sans" font-size="4.0" font-weight="normal" text-anchor="start" fill="#000" >1</text>
<line x1="32.3" y1="323.46" x2="33.9" y2="323.46" stroke="#000" stroke-width="0.8" />
<line x1="32.3" y1="318.33" x2="33.9" y2="318.33" stroke="#000" stroke-width="0.8" />
<line x1="32.3" y1="314.68" x2="33.9" y2="314.68" stroke="#000" stroke-width="0.8" />
<line x1="32.3" y1="311.86" x2="33.9" y2="311.86" stroke="#000" stroke-width="0.8" />
<line x1="32.3" y1="309.55" x2="33.9" y2="309.55" stroke="#000" stroke-width="0.8" />
<line x1="32.3" y1="307.6" x2="33.9" y2="307.6" stroke="#000" stroke-width="0.8" />
<line x1="32.3" y1="305.91" x2="33.9" y2="305.91" stroke="#000" stroke-width="0.8" />
<line x1="32.3" y1="304.41" x2="33.9" y2="304.41" stroke="#000" stroke-width="0.8" />
<line x1="31.1" y1="303.08" x2="33.9" y2="303.08" stroke="#000" stroke-width="1.1" />
<text x="26.3" y="306.38" font-family="Liberation Sans" font-size="9" font-weight="normal" text-anchor="end" fill="#000"  textLength="8.0" lengthAdjust="spacingAndGlyphs">10</text>
<text x="27.5" y="301.28" font-family="Liberation Sans" font-size="4.0" font-weight="normal" text-anchor="start" fill="#000" >2</text>
<line x1="32.3" y1="294.3" x2="33.9" y2="294.3" stroke="#000" stroke-width="0.8" />
<line x1="32.3" y1="289.17" x2="33.9" y2="289.17" stroke="#000" stroke-width="0.8" />
<line x1="32.3" y1="285.52" x2="33.9" y2="285.52" stroke="#000" stroke-width="0.8" />
<line x1="32.3" y1="282.7" x2="33.9" y2="282.7" stroke="#000" stroke-width="0.8" />
<line x1="32.3" y1="280.39" x2="33.9" y2="280.39" stroke="#000" stroke-width="0.8" />
<line x1="32.3" y1="278.44" x2="33.9" y2="278.44" stroke="#000" stroke-width="0.8" />
<line x1="32.3" y1="276.75" x2="33.9" y2="276.75" stroke="#000" stroke-width="0.8" />
<line x1="32.3" y1="275.25" x2="33.9" y2="275.25" stroke="#000" stroke-width="0.8" />
<line x1="31.1" y1="273.92" x2="33.9" y2="273.92" stroke="#000" stroke-width="1.1" />
<text x="26.3" y="277.22" font-family="Liberation Sans" font-size="9" font-weight="normal" text-anchor="end" fill="#000"  textLength="8.0" lengthAdjust="spacingAndGlyphs">10</text>
<text x="27.5" y="272.12" font-family="Liberation Sans" font-size="4.0" font-weight="normal" text-anchor="start" fill="#000" >3</text>
<line x1="32.3" y1="265.14" x2="33.9" y2="265.14" stroke="#000" stroke-width="0.8" />
<line x1="32.3" y1="260.01" x2="33.9" y2="260.01" stroke="#000" stroke-width="0.8" />
<line x1="32.3" y1="256.36" x2="33.9" y2="256.36" stroke="#000" stroke-width="0.8" />
<line x1="32.3" y1="253.54" x2="33.9" y2="253.54" stroke="#000" stroke-width="0.8" />
<line x1="32.3" y1="251.23" x2="33.9" y2="251.23" stroke="#000" stroke-width="0.8" />
<line x1="32.3" y1="249.28" x2="33.9" y2="249.28" stroke="#000" stroke-width="0.8" />
<line x1="32.3" y1="247.59" x2="33.9" y2="247.59" stroke="#000" stroke-width="0.8" />
<line x1="32.3" y1="246.09" x2="33.9" y2="246.09" stroke="#000" stroke-width="0.8" />
<line x1="31.1" y1="244.76" x2="33.9" y2="244.76" stroke="#000" stroke-width="1.1" />
<text x="26.3" y="248.06" font-family="Liberation Sans" font-size="9" font-weight="normal" text-anchor="end" fill="#000"  textLength="8.0" lengthAdjust="spacingAndGlyphs">10</text>
<text x="27.5" y="242.96" font-family="Liberation Sans" font-size="4.0" font-weight="normal" text-anchor="start" fill="#000" >4</text>
<line x1="32.3" y1="235.98" x2="33.9" y2="235.98" stroke="#000" stroke-width="0.8" />
<line x1="32.3" y1="230.85" x2="33.9" y2="230.85" stroke="#000" stroke-width="0.8" />
<line x1="32.3" y1="227.2" x2="33.9" y2="227.2" stroke="#000" stroke-width="0.8" />
<line x1="32.3" y1="224.38" x2="33.9" y2="224.38" stroke="#000" stroke-width="0.8" />
<line x1="32.3" y1="222.07" x2="33.9" y2="222.07" stroke="#000" stroke-width="0.8" />
<line x1="32.3" y1="220.12" x2="33.9" y2="220.12" stroke="#000" stroke-width="0.8" />
<line x1="32.3" y1="218.43" x2="33.9" y2="218.43" stroke="#000" stroke-width="0.8" />
<line x1="32.3" y1="216.93" x2="33.9" y2="216.93" stroke="#000" stroke-width="0.8" />
<line x1="31.1" y1="215.6" x2="33.9" y2="215.6" stroke="#000" stroke-width="1.1" />
<text x="26.3" y="218.9" font-family="Liberation Sans" font-size="9" font-weight="normal" text-anchor="end" fill="#000"  textLength="8.0" lengthAdjust="spacingAndGlyphs">10</text>
<text x="27.5" y="213.8" font-family="Liberation Sans" font-size="4.0" font-weight="normal" text-anchor="start" fill="#000" >5</text>
<line x1="33.8" y1="361.5" x2="33.8" y2="364.7" stroke="#000" stroke-width="1.1" />
<text x="33.8" y="373" font-family="Liberation Sans" font-size="8.4" font-weight="normal" text-anchor="middle" fill="#000"  textLength="4.1" lengthAdjust="spacingAndGlyphs">0</text>
<line x1="56.1" y1="361.5" x2="56.1" y2="363.3" stroke="#000" stroke-width="1" />
<line x1="78.4" y1="361.5" x2="78.4" y2="364.7" stroke="#000" stroke-width="1.1" />
<text x="78.4" y="373" font-family="Liberation Sans" font-size="8.4" font-weight="normal" text-anchor="middle" fill="#000"  textLength="12.4" lengthAdjust="spacingAndGlyphs">100</text>
<line x1="100.7" y1="361.5" x2="100.7" y2="363.3" stroke="#000" stroke-width="1" />
<line x1="123" y1="361.5" x2="123" y2="364.7" stroke="#000" stroke-width="1.1" />
<text x="123" y="373" font-family="Liberation Sans" font-size="8.4" font-weight="normal" text-anchor="middle" fill="#000"  textLength="12.4" lengthAdjust="spacingAndGlyphs">200</text>
<line x1="145.3" y1="361.5" x2="145.3" y2="363.3" stroke="#000" stroke-width="1" />
<line x1="167.6" y1="361.5" x2="167.6" y2="364.7" stroke="#000" stroke-width="1.1" />
<text x="167.6" y="373" font-family="Liberation Sans" font-size="8.4" font-weight="normal" text-anchor="middle" fill="#000"  textLength="12.4" lengthAdjust="spacingAndGlyphs">300</text>
<line x1="189.9" y1="361.5" x2="189.9" y2="363.3" stroke="#000" stroke-width="1" />
<line x1="212.2" y1="361.5" x2="212.2" y2="364.7" stroke="#000" stroke-width="1.1" />
<text x="212.2" y="373" font-family="Liberation Sans" font-size="8.4" font-weight="normal" text-anchor="middle" fill="#000"  textLength="12.4" lengthAdjust="spacingAndGlyphs">400</text>
<line x1="128.8" y1="213.9" x2="128.8" y2="215.9" stroke="#000" stroke-width="1" />
<text x="123.4" y="388" font-family="Liberation Sans" font-size="9.4" font-weight="bold" text-anchor="middle" fill="#000"  textLength="68.5" lengthAdjust="spacingAndGlyphs">Sputter time (s)</text>
<text textLength="61.3" lengthAdjust="spacingAndGlyphs" transform="translate(6,280.7) rotate(-90)" x="0" y="2.6" font-family="Liberation Sans" font-size="10" font-weight="bold" text-anchor="middle" fill="#000">Intensity (a.u.)</text>
<text x="2.8" y="205.2" font-family="Liberation Serif" font-size="13.8" font-weight="normal" text-anchor="start" fill="#000"  textLength="15.2" lengthAdjust="spacingAndGlyphs">(d)</text>
<rect x="263.9" y="214.2" width="130.3" height="146" fill="#FCE5D8" stroke="none" stroke-width="1" />
<rect x="394.2" y="214.2" width="68.6" height="146" fill="#D0EFFB" stroke="none" stroke-width="1" />
<path d="M264.2,330.3 L265.3,332.89 L266.4,341.87 L267.7,345.7 L268.65,338.76 L269.6,337.83 L270.47,335.29 L271.33,340.23 L272.2,340.02 L273.15,344.89 L274.1,355.96 L274.97,349.95 L275.83,346.42 L276.7,342.44 L277.57,344.53 L278.43,340.37 L279.3,341.61 L280.17,340.79 L281.03,344.79 L281.9,343.77 L282.85,345.29 L283.8,340.69 L284.75,350.53 L285.7,362.2 L287,345.17 L287.87,349 L288.73,346.12 L289.6,350.81 L290.43,344.23 L291.27,345.36 L292.1,339.84 L292.97,344.43 L293.83,342.34 L294.7,341.83 L296,342.23 L296.95,345.13 L297.9,355.32 L298.85,345.37 L299.8,339.25 L300.8,344.51 L301.8,343.34 L302.63,347.17 L303.47,341.96 L304.3,344.19 L305.6,359.89 L306.6,356.3 L307.6,347.07 L308.43,349.47 L309.27,348.58 L310.1,344.29 L310.97,352.17 L311.83,354.28 L312.7,362.2 L314,347.86 L314.87,350.4 L315.73,345.26 L316.6,347 L317.43,343.53 L318.27,348.8 L319.1,346.17 L319.97,347.24 L320.83,341.82 L321.7,344.32 L322.57,339.44 L323.43,341.18 L324.3,340.19 L325.13,338.36 L325.97,343.35 L326.8,344.93 L327.8,337.79 L328.73,340.96 L329.67,338.98 L330.6,338.75 L331.57,342.54 L332.53,338.51 L333.5,340.97 L334.55,340.12 L335.6,346.32 L336.65,340.75 L337.7,331.28 L339.1,336.35 L340.03,332.92 L340.97,330.38 L341.9,323.27 L342.83,328.21 L343.77,325.3 L344.7,325.18 L345.63,327 L346.57,320.76 L347.5,320.3 L349.6,316.1 L350.2,315.84 L351.05,314.01 L352.08,313.04 L353.2,312.09 L353.91,311.2 L354.7,311.55 L355.53,309.84 L356.39,309.61 L357.24,308.04 L358.06,308.14 L358.8,307.49 L359.73,306.89 L360.58,306.05 L361.38,303.49 L362.18,302.79 L363,303.36 L363.8,301.58 L364.55,301.82 L365.33,299.91 L366.22,300.67 L367.3,298.9 L367.99,299.3 L368.74,297.59 L369.54,297.79 L370.37,295.96 L371.25,296.64 L372.15,294.52 L373.08,295.27 L374.03,292.65 L375,291.93 L375.82,293.05 L376.67,291.78 L377.55,289.61 L378.45,288.73 L379.36,289.58 L380.29,287.5 L381.21,287.6 L382.14,286.65 L383.04,285.35 L383.94,285.08 L384.8,283.76 L385.83,283.98 L386.84,282.53 L387.83,282.77 L388.81,282.11 L389.79,280.82 L390.76,281.25 L391.73,280.03 L392.71,280.64 L393.7,279.2 L394.82,278.66 L395.95,279.11 L397.07,277.67 L398.2,278 L399.33,277.08 L400.45,277.35 L401.58,276.21 L402.7,275.81 L403.82,275.29 L404.93,275.91 L406.04,274.64 L407.15,275.21 L408.26,274.28 L409.37,274.22 L410.48,274.81 L411.6,273.51 L412.72,273.34 L413.85,274.07 L414.97,272.97 L416.1,272.86 L417.23,273.22 L418.35,272.6 L419.48,273.18 L420.6,272.1 L421.72,271.85 L422.83,272.63 L423.94,271.7 L425.05,271.43 L426.16,271.65 L427.27,272.21 L428.38,271.4 L429.5,272.11 L430.62,271.7 L431.75,270.96 L432.87,271.62 L434,271.64 L435.13,270.91 L436.25,271.66 L437.38,271.37 L438.5,270.54 L439.58,271.6 L440.59,271.5 L441.58,270.7 L442.57,270.56 L443.62,271.21 L444.75,270.27 L446,271.3 L447.4,271.15 L448.39,270.24 L449.52,271.18 L450.75,270.16 L452.06,270.93 L453.41,271.05 L454.78,270.35 L456.13,271.19 L457.45,271.06 L458.69,270.31 L459.84,271.25 L460.86,270.5 L461.72,271 L462.4,270.7" fill="none" stroke="#2f2520" stroke-width="1.15" stroke-linejoin="round" />
<path d="M264.4,214.5 L264.42,215.63 L264.44,214.86 L264.46,215.75 L264.49,218.4 L264.51,217.05 L264.54,218.25 L264.57,221.85 L264.6,220.57 L264.64,223.66 L264.68,224.61 L264.72,223.72 L264.76,227.01 L264.81,226.21 L264.86,229.12 L264.91,229.19 L264.97,232.24 L265.03,231.45 L265.1,234.38 L265.18,233.24 L265.27,236.59 L265.37,235.28 L265.48,238.34 L265.59,237.81 L265.7,240.52 L265.82,241.56 L265.94,240.62 L266.07,241.68 L266.19,244.72 L266.32,245.45 L266.44,244.98 L266.56,247.68 L266.68,246.3 L266.79,249.22 L266.9,248.51 L267.17,249.65 L267.44,250.79 L267.69,253.91 L267.95,253.39 L268.22,255.59 L268.5,256.49 L268.94,255.73 L269.39,258.88 L269.87,259.59 L270.4,258.67 L270.99,261.64 L271.62,262.32 L272.3,263.44 L273,262.48 L273.93,263.34 L274.91,265.1 L276.1,264.19 L276.94,266.34 L277.85,265.16 L278.83,267.45 L279.88,268 L281,266.87 L281.86,268.59 L282.63,267.9 L283.45,267.95 L284.46,269.91 L285.79,269.06 L287.6,270.8 L288.33,269.51 L289.11,271.5 L289.94,269.25 L290.82,269.77 L291.75,271.6 L292.72,270.34 L293.72,272.25 L294.76,269.83 L295.83,272.43 L296.92,270.66 L298.03,273 L299.16,272.97 L300.3,271.33 L301.46,272.48 L302.62,271.82 L303.78,273.06 L304.94,272.19 L306.1,273.08 L307.02,272.54 L307.98,273.61 L308.97,272.53 L309.98,272.69 L311.02,274.02 L312.08,272.89 L313.16,273.92 L314.24,273.23 L315.34,273.34 L316.43,274.26 L317.53,274.5 L318.62,273.92 L319.7,274.74 L320.77,273.97 L321.82,274.97 L322.85,274.23 L323.85,273.96 L324.82,275.16 L325.76,274.49 L326.66,274.23 L327.52,275.37 L328.34,275.78 L329.1,274.58 L330.69,275.64 L332.08,275.65 L333.32,275.18 L334.42,275.81 L335.43,274.71 L336.36,276.04 L337.25,275.98 L338.14,274.98 L339.04,275.77 L340,275.98 L341.08,274.72 L342.13,274.34 L343.14,275.47 L344.14,273.87 L345.11,274.92 L346.08,273.77 L347.04,274.61 L348.01,273.27 L349,272.62 L349.99,273.91 L350.98,272.06 L351.97,273.02 L352.96,273.02 L353.94,271.58 L354.93,271.91 L355.92,270.76 L356.91,270.28 L357.9,271.11 L358.9,269.72 L359.9,270.5 L360.9,270.69 L361.9,269.26 L362.9,270.02 L363.9,268.6 L364.9,269.78 L365.9,269.61 L366.9,268.9 L367.89,267.86 L368.88,268.38 L369.87,267.13 L370.86,267.91 L371.84,266.74 L372.83,267.3 L373.82,267.28 L374.81,266.23 L375.8,265.71 L376.8,266.7 L377.8,265.45 L378.8,266.4 L379.8,265.18 L380.8,264.8 L381.8,264.51 L382.8,265.15 L383.8,264.3 L384.8,265.05 L385.93,265.04 L387.07,263.39 L388.22,264.18 L389.36,263.14 L390.49,264.16 L391.6,262.65 L392.67,263.93 L393.7,262.7 L394.82,262.4 L395.88,263.79 L396.91,262.3 L397.91,263.64 L398.9,262.36 L399.89,263.57 L400.9,263.92 L401.9,262.62 L402.88,262.76 L403.85,262.99 L404.83,264.35 L405.84,263.51 L406.89,263.67 L408,263.77 L408.92,265.35 L409.87,265.65 L410.86,264.7 L411.87,265.7 L412.9,265.19 L413.93,266.37 L414.96,265.79 L415.99,265.84 L417,267.15 L418.01,266.41 L419.04,266.95 L420.07,268.33 L421.1,267.51 L422.13,268.84 L423.14,268.46 L424.13,269.65 L425.08,268.89 L426,270.22 L427.08,269.79 L428.06,271.1 L428.98,270.55 L429.9,272.06 L430.86,272.43 L431.91,271.83 L433.1,273.07 L433.95,273.49 L434.86,273.73 L435.83,272.88 L436.83,273.92 L437.87,273.34 L438.91,274.75 L439.96,274.69 L440.99,274.88 L442,274.36 L442.98,275.67 L443.9,274.92 L444.97,274.86 L445.99,276.17 L446.98,275.55 L447.95,276.41 L448.9,277.04 L449.85,275.83 L450.81,277.16 L451.79,276.23 L452.8,277.77 L453.89,277.74 L455.07,276.69 L456.3,278.44 L457.55,277.28 L458.75,278.37 L459.89,277.55 L460.9,279.15 L461.75,278.16 L462.4,278.8" fill="none" stroke="#2a2ade" stroke-width="1.2" stroke-linejoin="round" />
<path d="M264.1,220.4 L264.79,220.58 L265.81,221.59 L267,222.17 L267.85,222.21 L268.71,222.74 L269.85,223.52 L271.5,223.68 L272.24,224.13 L273.01,224.11 L273.82,224.62 L274.68,224.6 L275.6,225.25 L276.59,225.42 L277.67,225.52 L278.84,226.03 L280.11,226.02 L281.49,226.17 L283,226.82 L283.77,226.56 L284.59,226.68 L285.44,226.97 L286.33,226.76 L287.25,227.23 L288.2,227.02 L289.18,227.38 L290.18,227.09 L291.2,227.57 L292.24,227.29 L293.3,227.73 L294.37,227.74 L295.44,227.58 L296.53,227.93 L297.61,227.77 L298.7,228.12 L299.79,227.84 L300.87,228.2 L301.94,227.9 L303.01,228.36 L304.05,228.05 L305.09,228.43 L306.1,228.16 L307.1,228.61 L308.11,228.3 L309.12,228.76 L310.13,228.48 L311.15,228.82 L312.16,228.64 L313.18,229.06 L314.19,229.06 L315.21,228.82 L316.22,228.73 L317.23,229.1 L318.24,228.92 L319.25,228.91 L320.26,229.33 L321.26,229.02 L322.26,229.45 L323.25,229.09 L324.24,229.48 L325.23,229.33 L326.2,229.58 L327.18,229.41 L328.14,229.73 L329.1,229.38 L330.19,229.49 L331.27,229.94 L332.33,229.58 L333.38,230 L334.42,229.8 L335.46,229.76 L336.49,230.23 L337.51,230.22 L338.53,230.25 L339.55,229.98 L340.57,230.38 L341.59,230.14 L342.61,230.52 L343.64,230.3 L344.68,230.55 L345.72,230.32 L346.77,230.68 L347.83,230.46 L348.91,230.45 L350,230.85 L350.97,230.55 L351.96,230.93 L352.98,230.59 L354.02,230.91 L355.07,230.7 L356.14,231.03 L357.22,231.01 L358.3,230.7 L359.38,230.68 L360.47,230.83 L361.55,231.06 L362.62,230.81 L363.69,231.16 L364.74,230.88 L365.77,231.2 L366.78,230.88 L367.77,231.2 L368.73,230.94 L369.66,231.16 L370.55,231.01 L371.41,231.25 L372.23,231.38 L373,231.1 L374.48,231.39 L375.79,231.13 L376.96,231.64 L378.02,231.3 L379,231.83 L379.91,231.6 L380.79,232.03 L381.67,231.9 L382.56,232.38 L383.49,232.14 L384.5,232.74 L385.46,233.07 L386.43,232.96 L387.4,233.47 L388.36,233.45 L389.33,234.13 L390.3,233.98 L391.27,234.78 L392.24,235.12 L393.2,235.03 L394.17,235.78 L395.14,235.98 L396.1,236.36 L396.99,237.16 L397.87,237.57 L398.76,237.77 L399.65,238.54 L400.53,239.07 L401.41,239.31 L402.3,239.75 L403.18,240.7 L404.06,240.99 L404.95,241.58 L405.83,242.14 L406.72,242.92 L407.6,243.21 L408.42,243.78 L409.25,244.3 L410.08,244.88 L410.92,245.42 L411.75,246.33 L412.59,246.85 L413.42,247.26 L414.25,247.77 L415.07,248.39 L415.89,249.29 L416.71,249.6 L417.51,250.47 L418.31,250.74 L419.1,251.68 L419.93,252.03 L420.74,252.61 L421.53,253.26 L422.31,254.16 L423.08,254.5 L423.85,255.43 L424.62,255.66 L425.39,256.78 L426.17,257.06 L426.97,258 L427.79,258.44 L428.63,259.17 L429.5,260.16 L430.23,260.53 L431,261.41 L431.78,261.74 L432.58,262.39 L433.4,263.35 L434.23,263.74 L435.06,264.41 L435.89,265.16 L436.73,265.8 L437.55,266.61 L438.36,267.16 L439.16,267.9 L439.94,268.9 L440.69,269.23 L441.41,270.31 L442.1,270.53 L442.98,271.3 L443.84,272.49 L444.67,273.29 L445.47,273.86 L446.25,274.52 L447,275.62 L447.73,276.1 L448.43,276.87 L449.11,277.85 L449.76,278.3 L450.39,278.93 L451,279.59 L451.98,280.76 L452.88,281.27 L453.7,282.4 L454.46,282.86 L455.16,283.87 L455.8,284.24 L456.4,284.96 L457.13,286.19 L457.72,287.36 L458.21,288.49 L458.66,289.82 L459.1,290.29 L460.08,290.61 L460.9,289.26 L461.48,288.85 L462.02,287.46 L462.4,286.9" fill="none" stroke="#ec3128" stroke-width="1.3" stroke-linejoin="round" />
<rect x="272.7" y="283.8" width="51.9" height="44.2" fill="none" stroke="#8a7a70" stroke-width="1.1" rx="1.5"/>
<line x1="275.9" y1="292.8" x2="298" y2="292.8" stroke="#2f2520" stroke-width="1.5" />
<text x="300.7" y="296.5" font-family="Liberation Sans" font-size="9" font-weight="bold" text-anchor="start" fill="#000"  textLength="19.6" lengthAdjust="spacingAndGlyphs">SnO</text>
<text x="320.6" y="292.3" font-family="Liberation Sans" font-size="5.5" font-weight="bold" text-anchor="start" fill="#000" >-</text>
<line x1="275.9" y1="307.2" x2="298" y2="307.2" stroke="#ec3128" stroke-width="1.5" />
<text x="300.7" y="310.5" font-family="Liberation Sans" font-size="9" font-weight="bold" text-anchor="start" fill="#000"  textLength="14.7" lengthAdjust="spacingAndGlyphs">PbI</text>
<text x="315.7" y="306.3" font-family="Liberation Sans" font-size="5.5" font-weight="bold" text-anchor="start" fill="#000" >-</text>
<line x1="275.9" y1="321.3" x2="298" y2="321.3" stroke="#2a2ade" stroke-width="1.5" />
<text x="300.7" y="324.3" font-family="Liberation Sans" font-size="9" font-weight="bold" text-anchor="start" fill="#000"  textLength="5.6" lengthAdjust="spacingAndGlyphs">F</text>
<text x="306.6" y="320.1" font-family="Liberation Sans" font-size="5.5" font-weight="bold" text-anchor="start" fill="#000" >-</text>
<rect x="370.1" y="342" width="46.7" height="16.2" fill="none" stroke="#ffffff" stroke-width="0.9" rx="1" opacity="0.8"/>
<rect x="369.1" y="341" width="48.7" height="18.2" fill="none" stroke="#555" stroke-width="1.1" rx="0.8"/>
<line x1="394.2" y1="341" x2="394.2" y2="359.2" stroke="#555" stroke-width="1.1" />
<text x="374.9" y="356.1" font-family="Liberation Sans" font-size="11.6" font-weight="normal" text-anchor="start" fill="#111" stroke="#111" stroke-width="0.3" textLength="19.2" lengthAdjust="spacingAndGlyphs">PSK</text>
<text x="399.6" y="356.1" font-family="Liberation Sans" font-size="11.6" font-weight="normal" text-anchor="start" fill="#111" stroke="#111" stroke-width="0.3" textLength="17.6" lengthAdjust="spacingAndGlyphs">ITO</text>
<rect x="263.9" y="214.2" width="198.9" height="148.2" fill="none" stroke="#000" stroke-width="1.2" />
<line x1="261.1" y1="362.44" x2="263.9" y2="362.44" stroke="#000" stroke-width="1.1" />
<text x="256.3" y="365.74" font-family="Liberation Sans" font-size="9" font-weight="normal" text-anchor="end" fill="#000"  textLength="8.0" lengthAdjust="spacingAndGlyphs">10</text>
<text x="257.5" y="360.64" font-family="Liberation Sans" font-size="4.0" font-weight="normal" text-anchor="start" fill="#000" >-1</text>
<line x1="262.3" y1="354.57" x2="263.9" y2="354.57" stroke="#000" stroke-width="0.8" />
<line x1="262.3" y1="349.97" x2="263.9" y2="349.97" stroke="#000" stroke-width="0.8" />
<line x1="262.3" y1="346.7" x2="263.9" y2="346.7" stroke="#000" stroke-width="0.8" />
<line x1="262.3" y1="344.17" x2="263.9" y2="344.17" stroke="#000" stroke-width="0.8" />
<line x1="262.3" y1="342.1" x2="263.9" y2="342.1" stroke="#000" stroke-width="0.8" />
<line x1="262.3" y1="340.35" x2="263.9" y2="340.35" stroke="#000" stroke-width="0.8" />
<line x1="262.3" y1="338.83" x2="263.9" y2="338.83" stroke="#000" stroke-width="0.8" />
<line x1="262.3" y1="337.5" x2="263.9" y2="337.5" stroke="#000" stroke-width="0.8" />
<line x1="261.1" y1="336.3" x2="263.9" y2="336.3" stroke="#000" stroke-width="1.1" />
<text x="256.3" y="339.6" font-family="Liberation Sans" font-size="9" font-weight="normal" text-anchor="end" fill="#000"  textLength="8.0" lengthAdjust="spacingAndGlyphs">10</text>
<text x="257.5" y="334.5" font-family="Liberation Sans" font-size="4.0" font-weight="normal" text-anchor="start" fill="#000" >0</text>
<line x1="262.3" y1="328.43" x2="263.9" y2="328.43" stroke="#000" stroke-width="0.8" />
<line x1="262.3" y1="323.83" x2="263.9" y2="323.83" stroke="#000" stroke-width="0.8" />
<line x1="262.3" y1="320.56" x2="263.9" y2="320.56" stroke="#000" stroke-width="0.8" />
<line x1="262.3" y1="318.03" x2="263.9" y2="318.03" stroke="#000" stroke-width="0.8" />
<line x1="262.3" y1="315.96" x2="263.9" y2="315.96" stroke="#000" stroke-width="0.8" />
<line x1="262.3" y1="314.21" x2="263.9" y2="314.21" stroke="#000" stroke-width="0.8" />
<line x1="262.3" y1="312.69" x2="263.9" y2="312.69" stroke="#000" stroke-width="0.8" />
<line x1="262.3" y1="311.36" x2="263.9" y2="311.36" stroke="#000" stroke-width="0.8" />
<line x1="261.1" y1="310.16" x2="263.9" y2="310.16" stroke="#000" stroke-width="1.1" />
<text x="256.3" y="313.46" font-family="Liberation Sans" font-size="9" font-weight="normal" text-anchor="end" fill="#000"  textLength="8.0" lengthAdjust="spacingAndGlyphs">10</text>
<text x="257.5" y="308.36" font-family="Liberation Sans" font-size="4.0" font-weight="normal" text-anchor="start" fill="#000" >1</text>
<line x1="262.3" y1="302.29" x2="263.9" y2="302.29" stroke="#000" stroke-width="0.8" />
<line x1="262.3" y1="297.69" x2="263.9" y2="297.69" stroke="#000" stroke-width="0.8" />
<line x1="262.3" y1="294.42" x2="263.9" y2="294.42" stroke="#000" stroke-width="0.8" />
<line x1="262.3" y1="291.89" x2="263.9" y2="291.89" stroke="#000" stroke-width="0.8" />
<line x1="262.3" y1="289.82" x2="263.9" y2="289.82" stroke="#000" stroke-width="0.8" />
<line x1="262.3" y1="288.07" x2="263.9" y2="288.07" stroke="#000" stroke-width="0.8" />
<line x1="262.3" y1="286.55" x2="263.9" y2="286.55" stroke="#000" stroke-width="0.8" />
<line x1="262.3" y1="285.22" x2="263.9" y2="285.22" stroke="#000" stroke-width="0.8" />
<line x1="261.1" y1="284.02" x2="263.9" y2="284.02" stroke="#000" stroke-width="1.1" />
<text x="256.3" y="287.32" font-family="Liberation Sans" font-size="9" font-weight="normal" text-anchor="end" fill="#000"  textLength="8.0" lengthAdjust="spacingAndGlyphs">10</text>
<text x="257.5" y="282.22" font-family="Liberation Sans" font-size="4.0" font-weight="normal" text-anchor="start" fill="#000" >2</text>
<line x1="262.3" y1="276.15" x2="263.9" y2="276.15" stroke="#000" stroke-width="0.8" />
<line x1="262.3" y1="271.55" x2="263.9" y2="271.55" stroke="#000" stroke-width="0.8" />
<line x1="262.3" y1="268.28" x2="263.9" y2="268.28" stroke="#000" stroke-width="0.8" />
<line x1="262.3" y1="265.75" x2="263.9" y2="265.75" stroke="#000" stroke-width="0.8" />
<line x1="262.3" y1="263.68" x2="263.9" y2="263.68" stroke="#000" stroke-width="0.8" />
<line x1="262.3" y1="261.93" x2="263.9" y2="261.93" stroke="#000" stroke-width="0.8" />
<line x1="262.3" y1="260.41" x2="263.9" y2="260.41" stroke="#000" stroke-width="0.8" />
<line x1="262.3" y1="259.08" x2="263.9" y2="259.08" stroke="#000" stroke-width="0.8" />
<line x1="261.1" y1="257.88" x2="263.9" y2="257.88" stroke="#000" stroke-width="1.1" />
<text x="256.3" y="261.18" font-family="Liberation Sans" font-size="9" font-weight="normal" text-anchor="end" fill="#000"  textLength="8.0" lengthAdjust="spacingAndGlyphs">10</text>
<text x="257.5" y="256.08" font-family="Liberation Sans" font-size="4.0" font-weight="normal" text-anchor="start" fill="#000" >3</text>
<line x1="262.3" y1="250.01" x2="263.9" y2="250.01" stroke="#000" stroke-width="0.8" />
<line x1="262.3" y1="245.41" x2="263.9" y2="245.41" stroke="#000" stroke-width="0.8" />
<line x1="262.3" y1="242.14" x2="263.9" y2="242.14" stroke="#000" stroke-width="0.8" />
<line x1="262.3" y1="239.61" x2="263.9" y2="239.61" stroke="#000" stroke-width="0.8" />
<line x1="262.3" y1="237.54" x2="263.9" y2="237.54" stroke="#000" stroke-width="0.8" />
<line x1="262.3" y1="235.79" x2="263.9" y2="235.79" stroke="#000" stroke-width="0.8" />
<line x1="262.3" y1="234.27" x2="263.9" y2="234.27" stroke="#000" stroke-width="0.8" />
<line x1="262.3" y1="232.94" x2="263.9" y2="232.94" stroke="#000" stroke-width="0.8" />
<line x1="261.1" y1="231.74" x2="263.9" y2="231.74" stroke="#000" stroke-width="1.1" />
<text x="256.3" y="235.04" font-family="Liberation Sans" font-size="9" font-weight="normal" text-anchor="end" fill="#000"  textLength="8.0" lengthAdjust="spacingAndGlyphs">10</text>
<text x="257.5" y="229.94" font-family="Liberation Sans" font-size="4.0" font-weight="normal" text-anchor="start" fill="#000" >4</text>
<line x1="262.3" y1="223.87" x2="263.9" y2="223.87" stroke="#000" stroke-width="0.8" />
<line x1="262.3" y1="219.27" x2="263.9" y2="219.27" stroke="#000" stroke-width="0.8" />
<line x1="262.3" y1="216" x2="263.9" y2="216" stroke="#000" stroke-width="0.8" />
<line x1="263.8" y1="362.4" x2="263.8" y2="365.6" stroke="#000" stroke-width="1.1" />
<text x="263.8" y="373.8" font-family="Liberation Sans" font-size="8.4" font-weight="normal" text-anchor="middle" fill="#000"  textLength="4.1" lengthAdjust="spacingAndGlyphs">0</text>
<line x1="287.25" y1="362.4" x2="287.25" y2="364.2" stroke="#000" stroke-width="1" />
<line x1="310.7" y1="362.4" x2="310.7" y2="365.6" stroke="#000" stroke-width="1.1" />
<text x="310.7" y="373.8" font-family="Liberation Sans" font-size="8.4" font-weight="normal" text-anchor="middle" fill="#000"  textLength="12.4" lengthAdjust="spacingAndGlyphs">100</text>
<line x1="334.15" y1="362.4" x2="334.15" y2="364.2" stroke="#000" stroke-width="1" />
<line x1="357.6" y1="362.4" x2="357.6" y2="365.6" stroke="#000" stroke-width="1.1" />
<text x="357.6" y="373.8" font-family="Liberation Sans" font-size="8.4" font-weight="normal" text-anchor="middle" fill="#000"  textLength="12.4" lengthAdjust="spacingAndGlyphs">200</text>
<line x1="381.05" y1="362.4" x2="381.05" y2="364.2" stroke="#000" stroke-width="1" />
<line x1="404.5" y1="362.4" x2="404.5" y2="365.6" stroke="#000" stroke-width="1.1" />
<text x="404.5" y="373.8" font-family="Liberation Sans" font-size="8.4" font-weight="normal" text-anchor="middle" fill="#000"  textLength="12.4" lengthAdjust="spacingAndGlyphs">300</text>
<line x1="427.95" y1="362.4" x2="427.95" y2="364.2" stroke="#000" stroke-width="1" />
<line x1="451.4" y1="362.4" x2="451.4" y2="365.6" stroke="#000" stroke-width="1.1" />
<text x="451.4" y="373.8" font-family="Liberation Sans" font-size="8.4" font-weight="normal" text-anchor="middle" fill="#000"  textLength="12.4" lengthAdjust="spacingAndGlyphs">400</text>
<line x1="363.7" y1="214.2" x2="363.7" y2="216.2" stroke="#000" stroke-width="1" />
<text x="359.5" y="386.1" font-family="Liberation Sans" font-size="9.4" font-weight="bold" text-anchor="middle" fill="#000"  textLength="71.6" lengthAdjust="spacingAndGlyphs">Sputter time (s)</text>
<text textLength="62.6" lengthAdjust="spacingAndGlyphs" transform="translate(234.1,281.6) rotate(-90)" x="0" y="2.6" font-family="Liberation Sans" font-size="10" font-weight="bold" text-anchor="middle" fill="#000">Intensity (a.u.)</text>
<text x="243" y="206.7" font-family="Liberation Serif" font-size="13.8" font-weight="normal" text-anchor="start" fill="#000"  textLength="14.3" lengthAdjust="spacingAndGlyphs">(e)</text>
<rect x="500.4" y="214.5" width="131.9" height="144.7" fill="#FCE5D8" stroke="none" stroke-width="1" />
<rect x="632.3" y="214.5" width="65.5" height="144.7" fill="#D0EFFB" stroke="none" stroke-width="1" />
<path d="M500.9,327.7 L502.1,332.24 L502.97,336.13 L503.83,342.43 L504.7,342.37 L505.65,343.46 L506.6,336 L507.6,342.18 L508.6,341.92 L509.9,337.71 L510.85,341.55 L511.8,346.51 L512.75,342.56 L513.7,343.08 L514.65,346.69 L515.6,345.91 L516.6,345.29 L517.6,339.82 L518.9,349.59 L520.1,360.3 L521.4,336.53 L522.7,357.55 L524,338.98 L525.3,348.81 L526.25,350.62 L527.2,346.91 L528.15,343.54 L529.1,338.92 L530.1,338.64 L531.1,345.73 L532.05,344.56 L533,346.47 L533.87,345.27 L534.73,344.42 L535.6,346.97 L536.43,340.75 L537.27,342.83 L538.1,337.38 L539.1,343.69 L540.1,341.51 L541.05,349.16 L542,352.98 L542.87,348.28 L543.73,351.51 L544.6,346.12 L545.55,348.15 L546.5,353.75 L547.8,358.52 L549.1,343.7 L550.05,342.93 L551,334.43 L552,341.73 L553,350.72 L553.9,343.01 L554.8,341.44 L556.1,357.23 L557.4,347.13 L558.35,341.6 L559.3,340.15 L560.3,334.81 L561.3,336.04 L562.13,332.27 L562.97,335.55 L563.8,331.77 L564.6,335.14 L565.4,332.75 L566.2,337.95 L567,335.64 L568.15,335.25 L569.3,333.71 L570.33,328.56 L571.37,326.63 L572.4,328.64 L573.45,328.06 L574.5,335.75 L575.5,320.22 L576.5,325.05 L577.5,322.26 L578.55,324.1 L579.6,320.4 L581.6,316.3 L582.34,316.23 L583.39,315.59 L584.58,313.35 L585.7,313.96 L586.36,311.6 L586.99,311.34 L587.62,311.52 L588.28,309.14 L589,309.76 L589.8,307.65 L590.58,307.95 L591.42,305.66 L592.32,304.98 L593.24,305.22 L594.17,304.21 L595.1,302.23 L596,302.5 L596.86,300.42 L597.69,301.21 L598.51,299.33 L599.34,299.67 L600.21,299.4 L601.12,298.24 L602.1,295.97 L602.92,296.83 L603.78,295.04 L604.68,295.43 L605.6,294.82 L606.54,293.13 L607.49,293.11 L608.44,291.57 L609.38,291.89 L610.3,290.31 L611.32,290.76 L612.35,288.33 L613.38,287.69 L614.4,287.06 L615.42,288.28 L616.45,286.43 L617.47,285.24 L618.5,286.16 L619.54,284.23 L620.6,284.99 L621.67,283.58 L622.73,283.02 L623.78,283.08 L624.8,282.19 L625.78,282.37 L626.7,281.3 L627.83,280.48 L628.85,280.71 L629.81,279.46 L630.76,279.91 L631.74,279.54 L632.8,278.55 L633.95,277.9 L635.16,278.32 L636.4,277.13 L637.64,277.29 L638.85,276.23 L640,276.64 L641.02,275.78 L641.71,276.37 L642.5,276.04 L643.82,275.09 L646.1,275.63 L646.82,275.65 L647.61,275.48 L648.45,275.4 L649.35,274.32 L650.29,274.46 L651.28,275 L652.31,274.14 L653.38,274.55 L654.49,274.47 L655.62,274.33 L656.78,274.2 L657.97,273.99 L659.18,273.29 L660.4,273.01 L661.63,273.59 L662.88,272.95 L664.13,273.59 L665.38,272.4 L666.63,272.69 L667.87,272.39 L669.1,272.39 L670.16,273.1 L671.28,272.21 L672.45,272.81 L673.66,272.03 L674.9,272.07 L676.18,272.6 L677.49,271.92 L678.81,272.4 L680.14,271.91 L681.47,271.49 L682.81,272.28 L684.13,271.76 L685.44,272.46 L686.73,272.42 L687.99,271.42 L689.21,272.25 L690.4,271.56 L691.53,271.29 L692.62,271.99 L693.64,272.21 L694.59,271.34 L695.47,272.03 L696.27,271.11 L696.98,271.88 L697.6,271.5" fill="none" stroke="#2f2520" stroke-width="1.15" stroke-linejoin="round" />
<path d="M500.7,218.2 L500.77,217.87 L500.86,220.87 L500.96,219.31 L501.08,222.79 L501.21,223.4 L501.34,225.03 L501.48,224.12 L501.62,227.59 L501.75,226.75 L501.88,229.37 L502,229.57 L502.12,231.71 L502.24,231.12 L502.36,232.62 L502.48,235.54 L502.6,234.85 L502.72,237.37 L502.84,237.15 L502.96,239.54 L503.08,239.29 L503.2,241.7 L503.36,242.28 L503.51,243.64 L503.67,245.24 L503.83,244.11 L503.99,246.69 L504.16,248.06 L504.33,248.57 L504.5,247.77 L504.7,250.81 L504.9,250 L505.1,252.68 L505.31,251.95 L505.53,254.69 L505.76,254.19 L506,254.73 L506.35,258.23 L506.72,257.53 L507.1,260.56 L507.53,259.53 L508,260.36 L508.64,261.54 L509.34,264.24 L510.12,263.94 L511,266.04 L511.8,265.2 L512.69,267.86 L513.63,266.28 L514.58,269.08 L515.5,269.32 L516.6,267.92 L517.68,269.91 L518.79,268.34 L520,270.98 L520.99,271.11 L521.97,271.84 L523.03,270.38 L524.25,270.23 L525.7,272.45 L526.55,270.3 L527.5,272.54 L528.52,271.45 L529.6,273.35 L530.71,271.52 L531.82,273.03 L532.93,272.33 L534.01,272.59 L535.04,274.01 L536,274.05 L537.12,272.5 L538.21,274.96 L539.26,273.23 L540.27,273.05 L541.25,275.26 L542.19,273.64 L543.11,274.94 L544,275.53 L545.13,274.09 L546.19,275.02 L547.19,274.02 L548.15,275.32 L549.08,273.73 L550,276.08 L551.06,273.44 L552.07,273.41 L553.05,275.59 L554.02,274.97 L555,274.71 L556.01,272.49 L557.02,274.39 L558.03,272.13 L559.03,273.31 L560,271.26 L560.89,272.37 L561.7,270.43 L562.52,271.59 L563.46,269.58 L564.6,269.81 L565.27,268.32 L565.98,269.47 L566.73,268.73 L567.52,266.02 L568.35,265.49 L569.2,266.79 L570.08,264.26 L570.97,263.53 L571.88,264.91 L572.8,262.41 L573.58,263.08 L574.38,261.26 L575.21,262.56 L576.05,259.99 L576.9,260.9 L577.77,258.88 L578.64,260.16 L579.52,257.07 L580.4,258.32 L581.27,256.58 L582.14,256.83 L583,255.7 L583.95,256.07 L584.92,254.2 L585.9,254.4 L586.89,253 L587.88,253.53 L588.86,252.94 L589.82,252.29 L590.75,251.96 L591.65,251.24 L592.5,249.94 L593.3,250.56 L594.41,249.02 L595.36,249.45 L596.22,248.21 L597.04,248.48 L597.91,247.34 L598.87,247.75 L600,246.5 L600.81,246.91 L601.68,245.8 L602.59,245.99 L603.53,244.87 L604.51,245.27 L605.51,243.77 L606.52,244.19 L607.55,242.72 L608.57,242.44 L609.59,242.99 L610.6,241.51 L611.61,242.37 L612.64,241.21 L613.68,241.44 L614.73,240.45 L615.79,240.8 L616.85,240.78 L617.9,239.1 L618.95,240.2 L619.98,239.81 L621,239.63 L622,239.03 L623.06,238.37 L624.07,237.96 L625.06,238.77 L626.03,238.75 L627,238.49 L627.98,238.36 L628.99,237.67 L630.03,238.36 L631.13,237.75 L632.3,237.83 L633.18,238.67 L634.09,238.99 L635.03,239.06 L635.99,238 L636.97,239.05 L637.97,239.28 L638.98,238.52 L640,239.66 L641.03,239.4 L642.06,240.57 L643.08,239.68 L644.1,241.06 L645.11,240.31 L646.1,241.48 L647.09,240.88 L648.07,241.99 L649.06,242.83 L650.04,242.22 L651.03,243.54 L652.01,242.76 L653,244.24 L653.99,243.78 L654.97,244.91 L655.96,245.32 L656.94,245.1 L657.93,246.27 L658.91,245.89 L659.9,247.6 L660.82,247.95 L661.74,247.44 L662.66,248.45 L663.58,248.91 L664.5,249.4 L665.42,249.3 L666.33,250.58 L667.25,250.12 L668.17,251.62 L669.09,250.79 L670.01,252.33 L670.93,252.65 L671.85,253.39 L672.78,253.05 L673.7,254.03 L674.63,253.86 L675.58,255.21 L676.54,254.88 L677.5,256.28 L678.47,255.56 L679.44,257.11 L680.41,256.46 L681.37,257.87 L682.32,257.3 L683.25,258.77 L684.17,259.35 L685.07,258.73 L685.94,260.22 L686.79,259.9 L687.6,261.31 L688.6,261.07 L689.61,261.31 L690.61,262.17 L691.59,263.66 L692.55,264.61 L693.47,265.16 L694.34,264.87 L695.15,265.4 L695.89,267.02 L696.56,267.24 L697.13,266.81 L697.6,267.6" fill="none" stroke="#2a2ade" stroke-width="1.2" stroke-linejoin="round" />
<path d="M500.4,221.5 L500.99,221.89 L501.86,222.6 L503,223.71 L503.81,223.79 L504.71,224.49 L505.7,224.89 L506.8,224.88 L508,225.37 L508.92,225.97 L509.9,226.3 L510.93,226.54 L512.01,226.44 L513.14,227.08 L514.3,227.04 L515.5,227.32 L516.46,227.72 L517.45,227.87 L518.46,227.71 L519.5,228.36 L520.57,228.14 L521.65,228.59 L522.75,228.52 L523.87,228.55 L525,229.07 L525.91,228.9 L526.78,228.89 L527.64,229.41 L528.49,229.38 L529.37,229.24 L530.28,229.64 L531.24,229.46 L532.28,229.49 L533.41,229.63 L534.64,229.97 L536,229.75 L536.81,230.09 L537.66,229.79 L538.55,230.17 L539.48,229.95 L540.44,230.37 L541.43,230.14 L542.44,230.41 L543.48,230.07 L544.53,230.62 L545.61,230.27 L546.69,230.67 L547.78,230.42 L548.88,230.4 L549.98,230.88 L551.07,230.44 L552.16,230.81 L553.24,230.63 L554.31,230.65 L555.37,231.01 L556.4,230.7 L557.42,230.79 L558.43,231.05 L559.44,230.9 L560.45,230.9 L561.46,230.99 L562.46,231.01 L563.46,231.29 L564.47,231.02 L565.47,231.38 L566.48,231.04 L567.49,231.44 L568.51,231.06 L569.53,231.4 L570.56,231.15 L571.59,231.49 L572.63,231.28 L573.68,231.56 L574.74,231.23 L575.82,231.59 L576.9,231.32 L577.86,231.65 L578.85,231.47 L579.85,231.69 L580.88,231.46 L581.92,231.53 L582.97,231.79 L584.04,231.51 L585.11,231.53 L586.18,231.89 L587.26,231.51 L588.33,231.96 L589.4,231.65 L590.46,231.9 L591.51,231.96 L592.55,231.67 L593.57,232.06 L594.57,231.72 L595.55,232.07 L596.5,232.07 L597.43,231.84 L598.32,232.12 L599.18,231.82 L600,232.28 L601.38,232.07 L602.69,232.44 L603.93,232.45 L605.12,232.24 L606.24,232.58 L607.31,232.31 L608.34,232.81 L609.32,232.59 L610.27,232.98 L611.19,232.74 L612.08,233.15 L612.95,233.34 L613.8,233.39 L615.08,233.23 L616.19,233.75 L617.19,233.54 L618.12,234.12 L619.02,234.37 L619.93,234.37 L620.91,234.8 L622,234.91 L622.96,235.4 L623.97,235.42 L625.02,235.87 L626.09,235.81 L627.18,236.11 L628.27,236.82 L629.33,236.73 L630.37,237.14 L631.37,237.67 L632.3,237.62 L633.4,238.23 L634.45,238.23 L635.45,238.97 L636.41,238.85 L637.34,239.58 L638.25,239.58 L639.13,240.29 L640,240.31 L640.89,241.06 L641.63,241.34 L642.32,242.04 L643.03,242.57 L643.84,242.78 L644.84,243.63 L646.1,244.7 L646.75,245.21 L647.46,245.41 L648.21,246.14 L649.01,246.67 L649.84,247.21 L650.71,247.55 L651.6,248.4 L652.52,249.06 L653.45,249.36 L654.39,250.28 L655.33,250.67 L656.27,251.49 L657.2,251.78 L658.12,252.75 L659.02,253.45 L659.9,253.64 L660.77,254.53 L661.64,254.78 L662.52,255.66 L663.4,255.87 L664.29,256.78 L665.17,257.15 L666.06,258.03 L666.94,258.19 L667.81,258.82 L668.69,259.77 L669.55,259.89 L670.4,260.94 L671.25,261.07 L672.08,261.96 L672.9,262.19 L673.7,262.76 L674.59,263.73 L675.47,264.13 L676.32,265.14 L677.15,265.77 L677.98,266.15 L678.79,266.69 L679.59,267.74 L680.4,268.03 L681.2,269.07 L682,269.66 L682.81,270.02 L683.63,270.99 L684.46,271.4 L685.3,272.44 L686.07,272.62 L686.89,273.66 L687.74,274.15 L688.61,274.77 L689.5,275.57 L690.4,276.55 L691.29,277.36 L692.17,277.9 L693.03,278.93 L693.86,279.54 L694.64,279.88 L695.37,280.86 L696.04,281.51 L696.65,281.58 L697.17,282.37 L697.6,282.6" fill="none" stroke="#ec3128" stroke-width="1.3" stroke-linejoin="round" />
<rect x="516.9" y="281.7" width="51.4" height="42.2" fill="none" stroke="#8a7a70" stroke-width="1.1" rx="1.5"/>
<line x1="520.9" y1="290.6" x2="541.6" y2="290.6" stroke="#2f2520" stroke-width="1.5" />
<text x="544.5" y="293.9" font-family="Liberation Sans" font-size="9" font-weight="bold" text-anchor="start" fill="#000"  textLength="19.6" lengthAdjust="spacingAndGlyphs">SnO</text>
<text x="564.4" y="289.7" font-family="Liberation Sans" font-size="5.5" font-weight="bold" text-anchor="start" fill="#000" >-</text>
<line x1="520.9" y1="305.2" x2="541.6" y2="305.2" stroke="#ec3128" stroke-width="1.5" />
<text x="544.5" y="308.3" font-family="Liberation Sans" font-size="9" font-weight="bold" text-anchor="start" fill="#000"  textLength="14.7" lengthAdjust="spacingAndGlyphs">PbI</text>
<text x="559.5" y="304.1" font-family="Liberation Sans" font-size="5.5" font-weight="bold" text-anchor="start" fill="#000" >-</text>
<line x1="520.9" y1="318.6" x2="541.6" y2="318.6" stroke="#2a2ade" stroke-width="1.5" />
<text x="544.5" y="321.8" font-family="Liberation Sans" font-size="9" font-weight="bold" text-anchor="start" fill="#000"  textLength="5.6" lengthAdjust="spacingAndGlyphs">F</text>
<text x="550.4" y="317.6" font-family="Liberation Sans" font-size="5.5" font-weight="bold" text-anchor="start" fill="#000" >-</text>
<rect x="608.3" y="340.4" width="45.7" height="16.9" fill="none" stroke="#ffffff" stroke-width="0.9" rx="1" opacity="0.8"/>
<rect x="607.3" y="339.4" width="47.7" height="18.9" fill="none" stroke="#555" stroke-width="1.1" rx="0.8"/>
<line x1="631.8" y1="339.4" x2="631.8" y2="358.3" stroke="#555" stroke-width="1.1" />
<text x="613.1" y="354.5" font-family="Liberation Sans" font-size="11.6" font-weight="normal" text-anchor="start" fill="#111" stroke="#111" stroke-width="0.3" textLength="19.2" lengthAdjust="spacingAndGlyphs">PSK</text>
<text x="637.2" y="354.5" font-family="Liberation Sans" font-size="11.6" font-weight="normal" text-anchor="start" fill="#111" stroke="#111" stroke-width="0.3" textLength="17.6" lengthAdjust="spacingAndGlyphs">ITO</text>
<rect x="500.4" y="214.5" width="197.4" height="145.9" fill="none" stroke="#000" stroke-width="1.2" />
<line x1="497.6" y1="360.4" x2="500.4" y2="360.4" stroke="#000" stroke-width="1.1" />
<text x="492.8" y="363.7" font-family="Liberation Sans" font-size="9" font-weight="normal" text-anchor="end" fill="#000"  textLength="8.0" lengthAdjust="spacingAndGlyphs">10</text>
<text x="494" y="358.6" font-family="Liberation Sans" font-size="4.0" font-weight="normal" text-anchor="start" fill="#000" >-1</text>
<line x1="498.8" y1="352.69" x2="500.4" y2="352.69" stroke="#000" stroke-width="0.8" />
<line x1="498.8" y1="348.19" x2="500.4" y2="348.19" stroke="#000" stroke-width="0.8" />
<line x1="498.8" y1="344.99" x2="500.4" y2="344.99" stroke="#000" stroke-width="0.8" />
<line x1="498.8" y1="342.51" x2="500.4" y2="342.51" stroke="#000" stroke-width="0.8" />
<line x1="498.8" y1="340.48" x2="500.4" y2="340.48" stroke="#000" stroke-width="0.8" />
<line x1="498.8" y1="338.77" x2="500.4" y2="338.77" stroke="#000" stroke-width="0.8" />
<line x1="498.8" y1="337.28" x2="500.4" y2="337.28" stroke="#000" stroke-width="0.8" />
<line x1="498.8" y1="335.97" x2="500.4" y2="335.97" stroke="#000" stroke-width="0.8" />
<line x1="497.6" y1="334.8" x2="500.4" y2="334.8" stroke="#000" stroke-width="1.1" />
<text x="492.8" y="338.1" font-family="Liberation Sans" font-size="9" font-weight="normal" text-anchor="end" fill="#000"  textLength="8.0" lengthAdjust="spacingAndGlyphs">10</text>
<text x="494" y="333" font-family="Liberation Sans" font-size="4.0" font-weight="normal" text-anchor="start" fill="#000" >0</text>
<line x1="498.8" y1="327.09" x2="500.4" y2="327.09" stroke="#000" stroke-width="0.8" />
<line x1="498.8" y1="322.59" x2="500.4" y2="322.59" stroke="#000" stroke-width="0.8" />
<line x1="498.8" y1="319.39" x2="500.4" y2="319.39" stroke="#000" stroke-width="0.8" />
<line x1="498.8" y1="316.91" x2="500.4" y2="316.91" stroke="#000" stroke-width="0.8" />
<line x1="498.8" y1="314.88" x2="500.4" y2="314.88" stroke="#000" stroke-width="0.8" />
<line x1="498.8" y1="313.17" x2="500.4" y2="313.17" stroke="#000" stroke-width="0.8" />
<line x1="498.8" y1="311.68" x2="500.4" y2="311.68" stroke="#000" stroke-width="0.8" />
<line x1="498.8" y1="310.37" x2="500.4" y2="310.37" stroke="#000" stroke-width="0.8" />
<line x1="497.6" y1="309.2" x2="500.4" y2="309.2" stroke="#000" stroke-width="1.1" />
<text x="492.8" y="312.5" font-family="Liberation Sans" font-size="9" font-weight="normal" text-anchor="end" fill="#000"  textLength="8.0" lengthAdjust="spacingAndGlyphs">10</text>
<text x="494" y="307.4" font-family="Liberation Sans" font-size="4.0" font-weight="normal" text-anchor="start" fill="#000" >1</text>
<line x1="498.8" y1="301.49" x2="500.4" y2="301.49" stroke="#000" stroke-width="0.8" />
<line x1="498.8" y1="296.99" x2="500.4" y2="296.99" stroke="#000" stroke-width="0.8" />
<line x1="498.8" y1="293.79" x2="500.4" y2="293.79" stroke="#000" stroke-width="0.8" />
<line x1="498.8" y1="291.31" x2="500.4" y2="291.31" stroke="#000" stroke-width="0.8" />
<line x1="498.8" y1="289.28" x2="500.4" y2="289.28" stroke="#000" stroke-width="0.8" />
<line x1="498.8" y1="287.57" x2="500.4" y2="287.57" stroke="#000" stroke-width="0.8" />
<line x1="498.8" y1="286.08" x2="500.4" y2="286.08" stroke="#000" stroke-width="0.8" />
<line x1="498.8" y1="284.77" x2="500.4" y2="284.77" stroke="#000" stroke-width="0.8" />
<line x1="497.6" y1="283.6" x2="500.4" y2="283.6" stroke="#000" stroke-width="1.1" />
<text x="492.8" y="286.9" font-family="Liberation Sans" font-size="9" font-weight="normal" text-anchor="end" fill="#000"  textLength="8.0" lengthAdjust="spacingAndGlyphs">10</text>
<text x="494" y="281.8" font-family="Liberation Sans" font-size="4.0" font-weight="normal" text-anchor="start" fill="#000" >2</text>
<line x1="498.8" y1="275.89" x2="500.4" y2="275.89" stroke="#000" stroke-width="0.8" />
<line x1="498.8" y1="271.39" x2="500.4" y2="271.39" stroke="#000" stroke-width="0.8" />
<line x1="498.8" y1="268.19" x2="500.4" y2="268.19" stroke="#000" stroke-width="0.8" />
<line x1="498.8" y1="265.71" x2="500.4" y2="265.71" stroke="#000" stroke-width="0.8" />
<line x1="498.8" y1="263.68" x2="500.4" y2="263.68" stroke="#000" stroke-width="0.8" />
<line x1="498.8" y1="261.97" x2="500.4" y2="261.97" stroke="#000" stroke-width="0.8" />
<line x1="498.8" y1="260.48" x2="500.4" y2="260.48" stroke="#000" stroke-width="0.8" />
<line x1="498.8" y1="259.17" x2="500.4" y2="259.17" stroke="#000" stroke-width="0.8" />
<line x1="497.6" y1="258" x2="500.4" y2="258" stroke="#000" stroke-width="1.1" />
<text x="492.8" y="261.3" font-family="Liberation Sans" font-size="9" font-weight="normal" text-anchor="end" fill="#000"  textLength="8.0" lengthAdjust="spacingAndGlyphs">10</text>
<text x="494" y="256.2" font-family="Liberation Sans" font-size="4.0" font-weight="normal" text-anchor="start" fill="#000" >3</text>
<line x1="498.8" y1="250.29" x2="500.4" y2="250.29" stroke="#000" stroke-width="0.8" />
<line x1="498.8" y1="245.79" x2="500.4" y2="245.79" stroke="#000" stroke-width="0.8" />
<line x1="498.8" y1="242.59" x2="500.4" y2="242.59" stroke="#000" stroke-width="0.8" />
<line x1="498.8" y1="240.11" x2="500.4" y2="240.11" stroke="#000" stroke-width="0.8" />
<line x1="498.8" y1="238.08" x2="500.4" y2="238.08" stroke="#000" stroke-width="0.8" />
<line x1="498.8" y1="236.37" x2="500.4" y2="236.37" stroke="#000" stroke-width="0.8" />
<line x1="498.8" y1="234.88" x2="500.4" y2="234.88" stroke="#000" stroke-width="0.8" />
<line x1="498.8" y1="233.57" x2="500.4" y2="233.57" stroke="#000" stroke-width="0.8" />
<line x1="497.6" y1="232.4" x2="500.4" y2="232.4" stroke="#000" stroke-width="1.1" />
<text x="492.8" y="235.7" font-family="Liberation Sans" font-size="9" font-weight="normal" text-anchor="end" fill="#000"  textLength="8.0" lengthAdjust="spacingAndGlyphs">10</text>
<text x="494" y="230.6" font-family="Liberation Sans" font-size="4.0" font-weight="normal" text-anchor="start" fill="#000" >4</text>
<line x1="498.8" y1="224.69" x2="500.4" y2="224.69" stroke="#000" stroke-width="0.8" />
<line x1="498.8" y1="220.19" x2="500.4" y2="220.19" stroke="#000" stroke-width="0.8" />
<line x1="498.8" y1="216.99" x2="500.4" y2="216.99" stroke="#000" stroke-width="0.8" />
<line x1="498.8" y1="214.51" x2="500.4" y2="214.51" stroke="#000" stroke-width="0.8" />
<line x1="500.4" y1="360.4" x2="500.4" y2="363.6" stroke="#000" stroke-width="1.1" />
<text x="500.4" y="371.9" font-family="Liberation Sans" font-size="8.4" font-weight="normal" text-anchor="middle" fill="#000"  textLength="4.1" lengthAdjust="spacingAndGlyphs">0</text>
<line x1="523.7" y1="360.4" x2="523.7" y2="362.2" stroke="#000" stroke-width="1" />
<line x1="547" y1="360.4" x2="547" y2="363.6" stroke="#000" stroke-width="1.1" />
<text x="547" y="371.9" font-family="Liberation Sans" font-size="8.4" font-weight="normal" text-anchor="middle" fill="#000"  textLength="12.4" lengthAdjust="spacingAndGlyphs">100</text>
<line x1="570.3" y1="360.4" x2="570.3" y2="362.2" stroke="#000" stroke-width="1" />
<line x1="593.6" y1="360.4" x2="593.6" y2="363.6" stroke="#000" stroke-width="1.1" />
<text x="593.6" y="371.9" font-family="Liberation Sans" font-size="8.4" font-weight="normal" text-anchor="middle" fill="#000"  textLength="12.4" lengthAdjust="spacingAndGlyphs">200</text>
<line x1="616.9" y1="360.4" x2="616.9" y2="362.2" stroke="#000" stroke-width="1" />
<line x1="640.2" y1="360.4" x2="640.2" y2="363.6" stroke="#000" stroke-width="1.1" />
<text x="640.2" y="371.9" font-family="Liberation Sans" font-size="8.4" font-weight="normal" text-anchor="middle" fill="#000"  textLength="12.4" lengthAdjust="spacingAndGlyphs">300</text>
<line x1="663.5" y1="360.4" x2="663.5" y2="362.2" stroke="#000" stroke-width="1" />
<line x1="686.8" y1="360.4" x2="686.8" y2="363.6" stroke="#000" stroke-width="1.1" />
<text x="686.8" y="371.9" font-family="Liberation Sans" font-size="8.4" font-weight="normal" text-anchor="middle" fill="#000"  textLength="12.4" lengthAdjust="spacingAndGlyphs">400</text>
<line x1="599.66" y1="214.5" x2="599.66" y2="216.5" stroke="#000" stroke-width="1" />
<text x="595.6" y="384.8" font-family="Liberation Sans" font-size="9.4" font-weight="bold" text-anchor="middle" fill="#000"  textLength="71.2" lengthAdjust="spacingAndGlyphs">Sputter time (s)</text>
<text textLength="62.6" lengthAdjust="spacingAndGlyphs" transform="translate(471.9,281.6) rotate(-90)" x="0" y="2.6" font-family="Liberation Sans" font-size="10" font-weight="bold" text-anchor="middle" fill="#000">Intensity (a.u.)</text>
<text x="480.2" y="209.6" font-family="Liberation Serif" font-size="13.8" font-weight="normal" text-anchor="start" fill="#000"  textLength="13.0" lengthAdjust="spacingAndGlyphs">(f)</text>
</svg>
</body></html>
